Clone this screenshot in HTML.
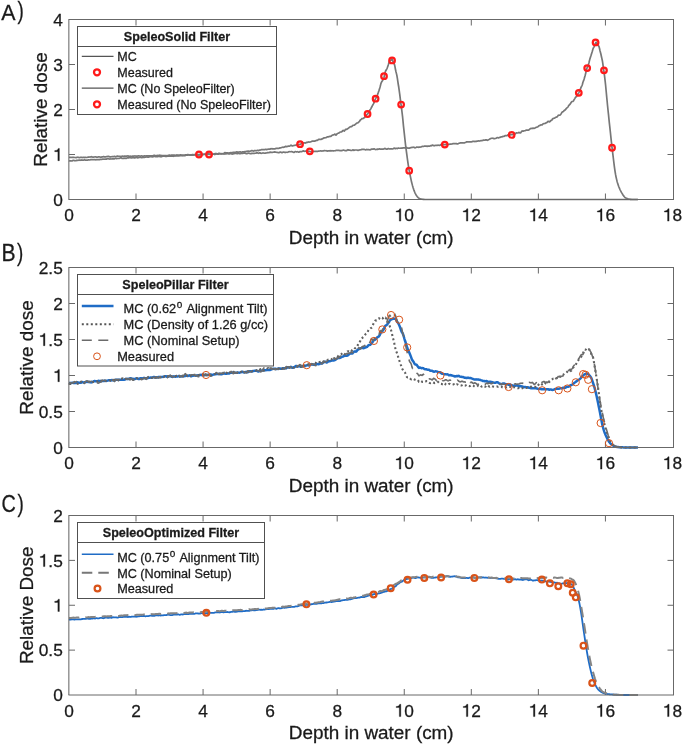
<!DOCTYPE html>
<html><head><meta charset="utf-8"><style>
html,body{margin:0;padding:0;background:#fff;width:685px;height:746px;overflow:hidden}
svg text{font-family:"Liberation Sans", sans-serif;fill:#1a1a1a;stroke:#1a1a1a;stroke-width:0.28px}
svg{will-change:transform}
</style></head><body>
<svg width="685" height="746" viewBox="0 0 685 746" style="position:absolute;left:0;top:0">
<rect x="0" y="0" width="685" height="746" fill="#ffffff"/>
<text x="64.14" y="221.10" font-size="17.3">0</text>
<line x1="136.01" y1="199.5" x2="136.01" y2="193.5" stroke="#686868" stroke-width="1"/>
<line x1="136.01" y1="19.5" x2="136.01" y2="25.5" stroke="#686868" stroke-width="1"/>
<text x="131.20" y="221.10" font-size="17.3">2</text>
<line x1="203.07" y1="199.5" x2="203.07" y2="193.5" stroke="#686868" stroke-width="1"/>
<line x1="203.07" y1="19.5" x2="203.07" y2="25.5" stroke="#686868" stroke-width="1"/>
<text x="198.26" y="221.10" font-size="17.3">4</text>
<line x1="270.13" y1="199.5" x2="270.13" y2="193.5" stroke="#686868" stroke-width="1"/>
<line x1="270.13" y1="19.5" x2="270.13" y2="25.5" stroke="#686868" stroke-width="1"/>
<text x="265.32" y="221.10" font-size="17.3">6</text>
<line x1="337.19" y1="199.5" x2="337.19" y2="193.5" stroke="#686868" stroke-width="1"/>
<line x1="337.19" y1="19.5" x2="337.19" y2="25.5" stroke="#686868" stroke-width="1"/>
<text x="332.38" y="221.10" font-size="17.3">8</text>
<line x1="404.25" y1="199.5" x2="404.25" y2="193.5" stroke="#686868" stroke-width="1"/>
<line x1="404.25" y1="19.5" x2="404.25" y2="25.5" stroke="#686868" stroke-width="1"/>
<path transform="translate(394.63,221.10) scale(17.3,-17.3)" d="M0.358 0 L0.358 0.712 L0.296 0.712 C0.282 0.640 0.215 0.590 0.090 0.584 L0.090 0.522 L0.272 0.522 L0.272 0 Z" fill="#1a1a1a" stroke="#1a1a1a" stroke-width="0.0202"/><text x="404.25" y="221.10" font-size="17.3">0</text>
<line x1="471.31" y1="199.5" x2="471.31" y2="193.5" stroke="#686868" stroke-width="1"/>
<line x1="471.31" y1="19.5" x2="471.31" y2="25.5" stroke="#686868" stroke-width="1"/>
<path transform="translate(461.69,221.10) scale(17.3,-17.3)" d="M0.358 0 L0.358 0.712 L0.296 0.712 C0.282 0.640 0.215 0.590 0.090 0.584 L0.090 0.522 L0.272 0.522 L0.272 0 Z" fill="#1a1a1a" stroke="#1a1a1a" stroke-width="0.0202"/><text x="471.31" y="221.10" font-size="17.3">2</text>
<line x1="538.37" y1="199.5" x2="538.37" y2="193.5" stroke="#686868" stroke-width="1"/>
<line x1="538.37" y1="19.5" x2="538.37" y2="25.5" stroke="#686868" stroke-width="1"/>
<path transform="translate(528.75,221.10) scale(17.3,-17.3)" d="M0.358 0 L0.358 0.712 L0.296 0.712 C0.282 0.640 0.215 0.590 0.090 0.584 L0.090 0.522 L0.272 0.522 L0.272 0 Z" fill="#1a1a1a" stroke="#1a1a1a" stroke-width="0.0202"/><text x="538.37" y="221.10" font-size="17.3">4</text>
<line x1="605.43" y1="199.5" x2="605.43" y2="193.5" stroke="#686868" stroke-width="1"/>
<line x1="605.43" y1="19.5" x2="605.43" y2="25.5" stroke="#686868" stroke-width="1"/>
<path transform="translate(595.81,221.10) scale(17.3,-17.3)" d="M0.358 0 L0.358 0.712 L0.296 0.712 C0.282 0.640 0.215 0.590 0.090 0.584 L0.090 0.522 L0.272 0.522 L0.272 0 Z" fill="#1a1a1a" stroke="#1a1a1a" stroke-width="0.0202"/><text x="605.43" y="221.10" font-size="17.3">6</text>
<path transform="translate(662.87,221.10) scale(17.3,-17.3)" d="M0.358 0 L0.358 0.712 L0.296 0.712 C0.282 0.640 0.215 0.590 0.090 0.584 L0.090 0.522 L0.272 0.522 L0.272 0 Z" fill="#1a1a1a" stroke="#1a1a1a" stroke-width="0.0202"/><text x="672.49" y="221.10" font-size="17.3">8</text>
<text x="53.18" y="205.70" font-size="17.3">0</text>
<line x1="69.0" y1="154.50" x2="75.0" y2="154.50" stroke="#686868" stroke-width="1"/>
<line x1="673.5" y1="154.50" x2="667.5" y2="154.50" stroke="#686868" stroke-width="1"/>
<path transform="translate(53.18,160.70) scale(17.3,-17.3)" d="M0.358 0 L0.358 0.712 L0.296 0.712 C0.282 0.640 0.215 0.590 0.090 0.584 L0.090 0.522 L0.272 0.522 L0.272 0 Z" fill="#1a1a1a" stroke="#1a1a1a" stroke-width="0.0202"/>
<line x1="69.0" y1="109.50" x2="75.0" y2="109.50" stroke="#686868" stroke-width="1"/>
<line x1="673.5" y1="109.50" x2="667.5" y2="109.50" stroke="#686868" stroke-width="1"/>
<text x="53.18" y="115.70" font-size="17.3">2</text>
<line x1="69.0" y1="64.50" x2="75.0" y2="64.50" stroke="#686868" stroke-width="1"/>
<line x1="673.5" y1="64.50" x2="667.5" y2="64.50" stroke="#686868" stroke-width="1"/>
<text x="53.18" y="70.70" font-size="17.3">3</text>
<text x="53.18" y="25.70" font-size="17.3">4</text>
<text x="371.25" y="243.80" text-anchor="middle" font-size="18.9">Depth in water (cm)</text>
<text transform="translate(47.0,109.50) rotate(-90)" text-anchor="middle" font-size="18.9">Relative dose</text>
<text x="64.14" y="469.10" font-size="17.3">0</text>
<line x1="136.01" y1="447.5" x2="136.01" y2="441.5" stroke="#686868" stroke-width="1"/>
<line x1="136.01" y1="267.5" x2="136.01" y2="273.5" stroke="#686868" stroke-width="1"/>
<text x="131.20" y="469.10" font-size="17.3">2</text>
<line x1="203.07" y1="447.5" x2="203.07" y2="441.5" stroke="#686868" stroke-width="1"/>
<line x1="203.07" y1="267.5" x2="203.07" y2="273.5" stroke="#686868" stroke-width="1"/>
<text x="198.26" y="469.10" font-size="17.3">4</text>
<line x1="270.13" y1="447.5" x2="270.13" y2="441.5" stroke="#686868" stroke-width="1"/>
<line x1="270.13" y1="267.5" x2="270.13" y2="273.5" stroke="#686868" stroke-width="1"/>
<text x="265.32" y="469.10" font-size="17.3">6</text>
<line x1="337.19" y1="447.5" x2="337.19" y2="441.5" stroke="#686868" stroke-width="1"/>
<line x1="337.19" y1="267.5" x2="337.19" y2="273.5" stroke="#686868" stroke-width="1"/>
<text x="332.38" y="469.10" font-size="17.3">8</text>
<line x1="404.25" y1="447.5" x2="404.25" y2="441.5" stroke="#686868" stroke-width="1"/>
<line x1="404.25" y1="267.5" x2="404.25" y2="273.5" stroke="#686868" stroke-width="1"/>
<path transform="translate(394.63,469.10) scale(17.3,-17.3)" d="M0.358 0 L0.358 0.712 L0.296 0.712 C0.282 0.640 0.215 0.590 0.090 0.584 L0.090 0.522 L0.272 0.522 L0.272 0 Z" fill="#1a1a1a" stroke="#1a1a1a" stroke-width="0.0202"/><text x="404.25" y="469.10" font-size="17.3">0</text>
<line x1="471.31" y1="447.5" x2="471.31" y2="441.5" stroke="#686868" stroke-width="1"/>
<line x1="471.31" y1="267.5" x2="471.31" y2="273.5" stroke="#686868" stroke-width="1"/>
<path transform="translate(461.69,469.10) scale(17.3,-17.3)" d="M0.358 0 L0.358 0.712 L0.296 0.712 C0.282 0.640 0.215 0.590 0.090 0.584 L0.090 0.522 L0.272 0.522 L0.272 0 Z" fill="#1a1a1a" stroke="#1a1a1a" stroke-width="0.0202"/><text x="471.31" y="469.10" font-size="17.3">2</text>
<line x1="538.37" y1="447.5" x2="538.37" y2="441.5" stroke="#686868" stroke-width="1"/>
<line x1="538.37" y1="267.5" x2="538.37" y2="273.5" stroke="#686868" stroke-width="1"/>
<path transform="translate(528.75,469.10) scale(17.3,-17.3)" d="M0.358 0 L0.358 0.712 L0.296 0.712 C0.282 0.640 0.215 0.590 0.090 0.584 L0.090 0.522 L0.272 0.522 L0.272 0 Z" fill="#1a1a1a" stroke="#1a1a1a" stroke-width="0.0202"/><text x="538.37" y="469.10" font-size="17.3">4</text>
<line x1="605.43" y1="447.5" x2="605.43" y2="441.5" stroke="#686868" stroke-width="1"/>
<line x1="605.43" y1="267.5" x2="605.43" y2="273.5" stroke="#686868" stroke-width="1"/>
<path transform="translate(595.81,469.10) scale(17.3,-17.3)" d="M0.358 0 L0.358 0.712 L0.296 0.712 C0.282 0.640 0.215 0.590 0.090 0.584 L0.090 0.522 L0.272 0.522 L0.272 0 Z" fill="#1a1a1a" stroke="#1a1a1a" stroke-width="0.0202"/><text x="605.43" y="469.10" font-size="17.3">6</text>
<path transform="translate(662.87,469.10) scale(17.3,-17.3)" d="M0.358 0 L0.358 0.712 L0.296 0.712 C0.282 0.640 0.215 0.590 0.090 0.584 L0.090 0.522 L0.272 0.522 L0.272 0 Z" fill="#1a1a1a" stroke="#1a1a1a" stroke-width="0.0202"/><text x="672.49" y="469.10" font-size="17.3">8</text>
<text x="53.18" y="453.70" font-size="17.3">0</text>
<line x1="69.0" y1="411.50" x2="75.0" y2="411.50" stroke="#686868" stroke-width="1"/>
<line x1="673.5" y1="411.50" x2="667.5" y2="411.50" stroke="#686868" stroke-width="1"/>
<text x="38.75" y="417.70" font-size="17.3">0</text><text x="48.37" y="417.70" font-size="17.3">.</text><text x="53.18" y="417.70" font-size="17.3">5</text>
<line x1="69.0" y1="375.50" x2="75.0" y2="375.50" stroke="#686868" stroke-width="1"/>
<line x1="673.5" y1="375.50" x2="667.5" y2="375.50" stroke="#686868" stroke-width="1"/>
<path transform="translate(53.18,381.70) scale(17.3,-17.3)" d="M0.358 0 L0.358 0.712 L0.296 0.712 C0.282 0.640 0.215 0.590 0.090 0.584 L0.090 0.522 L0.272 0.522 L0.272 0 Z" fill="#1a1a1a" stroke="#1a1a1a" stroke-width="0.0202"/>
<line x1="69.0" y1="339.50" x2="75.0" y2="339.50" stroke="#686868" stroke-width="1"/>
<line x1="673.5" y1="339.50" x2="667.5" y2="339.50" stroke="#686868" stroke-width="1"/>
<path transform="translate(38.75,345.70) scale(17.3,-17.3)" d="M0.358 0 L0.358 0.712 L0.296 0.712 C0.282 0.640 0.215 0.590 0.090 0.584 L0.090 0.522 L0.272 0.522 L0.272 0 Z" fill="#1a1a1a" stroke="#1a1a1a" stroke-width="0.0202"/><text x="48.37" y="345.70" font-size="17.3">.</text><text x="53.18" y="345.70" font-size="17.3">5</text>
<line x1="69.0" y1="303.50" x2="75.0" y2="303.50" stroke="#686868" stroke-width="1"/>
<line x1="673.5" y1="303.50" x2="667.5" y2="303.50" stroke="#686868" stroke-width="1"/>
<text x="53.18" y="309.70" font-size="17.3">2</text>
<text x="38.75" y="273.70" font-size="17.3">2</text><text x="48.37" y="273.70" font-size="17.3">.</text><text x="53.18" y="273.70" font-size="17.3">5</text>
<text x="371.25" y="491.80" text-anchor="middle" font-size="18.9">Depth in water (cm)</text>
<text transform="translate(32.8,357.50) rotate(-90)" text-anchor="middle" font-size="18.9">Relative dose</text>
<text x="64.14" y="716.60" font-size="17.3">0</text>
<line x1="136.01" y1="695.0" x2="136.01" y2="689.0" stroke="#686868" stroke-width="1"/>
<line x1="136.01" y1="515.5" x2="136.01" y2="521.5" stroke="#686868" stroke-width="1"/>
<text x="131.20" y="716.60" font-size="17.3">2</text>
<line x1="203.07" y1="695.0" x2="203.07" y2="689.0" stroke="#686868" stroke-width="1"/>
<line x1="203.07" y1="515.5" x2="203.07" y2="521.5" stroke="#686868" stroke-width="1"/>
<text x="198.26" y="716.60" font-size="17.3">4</text>
<line x1="270.13" y1="695.0" x2="270.13" y2="689.0" stroke="#686868" stroke-width="1"/>
<line x1="270.13" y1="515.5" x2="270.13" y2="521.5" stroke="#686868" stroke-width="1"/>
<text x="265.32" y="716.60" font-size="17.3">6</text>
<line x1="337.19" y1="695.0" x2="337.19" y2="689.0" stroke="#686868" stroke-width="1"/>
<line x1="337.19" y1="515.5" x2="337.19" y2="521.5" stroke="#686868" stroke-width="1"/>
<text x="332.38" y="716.60" font-size="17.3">8</text>
<line x1="404.25" y1="695.0" x2="404.25" y2="689.0" stroke="#686868" stroke-width="1"/>
<line x1="404.25" y1="515.5" x2="404.25" y2="521.5" stroke="#686868" stroke-width="1"/>
<path transform="translate(394.63,716.60) scale(17.3,-17.3)" d="M0.358 0 L0.358 0.712 L0.296 0.712 C0.282 0.640 0.215 0.590 0.090 0.584 L0.090 0.522 L0.272 0.522 L0.272 0 Z" fill="#1a1a1a" stroke="#1a1a1a" stroke-width="0.0202"/><text x="404.25" y="716.60" font-size="17.3">0</text>
<line x1="471.31" y1="695.0" x2="471.31" y2="689.0" stroke="#686868" stroke-width="1"/>
<line x1="471.31" y1="515.5" x2="471.31" y2="521.5" stroke="#686868" stroke-width="1"/>
<path transform="translate(461.69,716.60) scale(17.3,-17.3)" d="M0.358 0 L0.358 0.712 L0.296 0.712 C0.282 0.640 0.215 0.590 0.090 0.584 L0.090 0.522 L0.272 0.522 L0.272 0 Z" fill="#1a1a1a" stroke="#1a1a1a" stroke-width="0.0202"/><text x="471.31" y="716.60" font-size="17.3">2</text>
<line x1="538.37" y1="695.0" x2="538.37" y2="689.0" stroke="#686868" stroke-width="1"/>
<line x1="538.37" y1="515.5" x2="538.37" y2="521.5" stroke="#686868" stroke-width="1"/>
<path transform="translate(528.75,716.60) scale(17.3,-17.3)" d="M0.358 0 L0.358 0.712 L0.296 0.712 C0.282 0.640 0.215 0.590 0.090 0.584 L0.090 0.522 L0.272 0.522 L0.272 0 Z" fill="#1a1a1a" stroke="#1a1a1a" stroke-width="0.0202"/><text x="538.37" y="716.60" font-size="17.3">4</text>
<line x1="605.43" y1="695.0" x2="605.43" y2="689.0" stroke="#686868" stroke-width="1"/>
<line x1="605.43" y1="515.5" x2="605.43" y2="521.5" stroke="#686868" stroke-width="1"/>
<path transform="translate(595.81,716.60) scale(17.3,-17.3)" d="M0.358 0 L0.358 0.712 L0.296 0.712 C0.282 0.640 0.215 0.590 0.090 0.584 L0.090 0.522 L0.272 0.522 L0.272 0 Z" fill="#1a1a1a" stroke="#1a1a1a" stroke-width="0.0202"/><text x="605.43" y="716.60" font-size="17.3">6</text>
<path transform="translate(662.87,716.60) scale(17.3,-17.3)" d="M0.358 0 L0.358 0.712 L0.296 0.712 C0.282 0.640 0.215 0.590 0.090 0.584 L0.090 0.522 L0.272 0.522 L0.272 0 Z" fill="#1a1a1a" stroke="#1a1a1a" stroke-width="0.0202"/><text x="672.49" y="716.60" font-size="17.3">8</text>
<text x="53.18" y="701.20" font-size="17.3">0</text>
<line x1="69.0" y1="650.12" x2="75.0" y2="650.12" stroke="#686868" stroke-width="1"/>
<line x1="673.5" y1="650.12" x2="667.5" y2="650.12" stroke="#686868" stroke-width="1"/>
<text x="38.75" y="656.33" font-size="17.3">0</text><text x="48.37" y="656.33" font-size="17.3">.</text><text x="53.18" y="656.33" font-size="17.3">5</text>
<line x1="69.0" y1="605.25" x2="75.0" y2="605.25" stroke="#686868" stroke-width="1"/>
<line x1="673.5" y1="605.25" x2="667.5" y2="605.25" stroke="#686868" stroke-width="1"/>
<path transform="translate(53.18,611.45) scale(17.3,-17.3)" d="M0.358 0 L0.358 0.712 L0.296 0.712 C0.282 0.640 0.215 0.590 0.090 0.584 L0.090 0.522 L0.272 0.522 L0.272 0 Z" fill="#1a1a1a" stroke="#1a1a1a" stroke-width="0.0202"/>
<line x1="69.0" y1="560.38" x2="75.0" y2="560.38" stroke="#686868" stroke-width="1"/>
<line x1="673.5" y1="560.38" x2="667.5" y2="560.38" stroke="#686868" stroke-width="1"/>
<path transform="translate(38.75,566.58) scale(17.3,-17.3)" d="M0.358 0 L0.358 0.712 L0.296 0.712 C0.282 0.640 0.215 0.590 0.090 0.584 L0.090 0.522 L0.272 0.522 L0.272 0 Z" fill="#1a1a1a" stroke="#1a1a1a" stroke-width="0.0202"/><text x="48.37" y="566.58" font-size="17.3">.</text><text x="53.18" y="566.58" font-size="17.3">5</text>
<text x="53.18" y="521.70" font-size="17.3">2</text>
<text x="371.25" y="739.30" text-anchor="middle" font-size="18.9">Depth in water (cm)</text>
<text transform="translate(32.8,605.25) rotate(-90)" text-anchor="middle" font-size="18.9">Relative Dose</text>
<path d="M69.00,160.59 L69.47,160.89 L69.95,160.91 L70.42,160.86 L70.90,160.86 L71.37,160.93 L71.85,160.99 L72.32,160.85 L72.80,160.52 L73.27,160.23 L73.74,160.33 L74.22,160.56 L74.69,160.66 L75.17,160.72 L75.64,160.71 L76.12,160.58 L76.59,160.43 L77.07,160.35 L77.54,160.30 L78.02,160.30 L78.49,160.22 L78.96,160.09 L79.44,160.16 L79.91,160.29 L80.39,160.24 L80.86,160.04 L81.34,159.95 L81.81,160.07 L82.29,160.13 L82.76,160.12 L83.23,160.18 L83.71,160.12 L84.18,159.96 L84.66,159.91 L85.13,159.96 L85.61,160.12 L86.08,160.26 L86.56,160.16 L87.03,160.18 L87.50,160.18 L87.98,159.98 L88.45,159.86 L88.93,159.95 L89.40,160.01 L89.88,159.89 L90.35,159.70 L90.83,159.53 L91.30,159.50 L91.77,159.53 L92.25,159.56 L92.72,159.68 L93.20,159.73 L93.67,159.60 L94.15,159.54 L94.62,159.63 L95.10,159.71 L95.57,159.78 L96.05,159.80 L96.52,159.61 L96.99,159.54 L97.47,159.65 L97.94,159.63 L98.42,159.55 L98.89,159.56 L99.37,159.67 L99.84,159.56 L100.32,159.29 L100.79,159.30 L101.26,159.51 L101.74,159.47 L102.21,159.30 L102.69,159.18 L103.16,159.12 L103.64,159.21 L104.11,159.24 L104.59,159.15 L105.06,159.01 L105.53,159.05 L106.01,159.20 L106.48,159.15 L106.96,158.86 L107.43,158.70 L107.91,158.68 L108.38,158.70 L108.86,158.84 L109.33,159.02 L109.80,159.08 L110.28,158.97 L110.75,158.87 L111.23,158.98 L111.70,159.00 L112.18,158.87 L112.65,158.74 L113.13,158.78 L113.60,158.97 L114.08,158.99 L114.55,158.72 L115.02,158.44 L115.50,158.40 L115.97,158.50 L116.45,158.56 L116.92,158.54 L117.40,158.49 L117.87,158.47 L118.35,158.52 L118.82,158.50 L119.29,158.41 L119.77,158.28 L120.24,158.08 L120.72,157.84 L121.19,157.84 L121.67,158.13 L122.14,158.47 L122.62,158.52 L123.09,158.41 L123.56,158.40 L124.04,158.39 L124.51,158.15 L124.99,158.10 L125.46,158.32 L125.94,158.42 L126.41,158.31 L126.89,158.07 L127.36,157.81 L127.83,157.70 L128.31,157.79 L128.78,157.82 L129.26,157.72 L129.73,157.59 L130.21,157.57 L130.68,157.71 L131.16,157.93 L131.63,157.99 L132.11,157.85 L132.58,157.63 L133.05,157.62 L133.53,157.76 L134.00,157.80 L134.48,157.78 L134.95,157.84 L135.43,157.78 L135.90,157.48 L136.38,157.30 L136.85,157.51 L137.32,157.77 L137.80,157.89 L138.27,157.79 L138.75,157.52 L139.22,157.36 L139.70,157.37 L140.17,157.39 L140.65,157.41 L141.12,157.52 L141.59,157.64 L142.07,157.57 L142.54,157.48 L143.02,157.50 L143.49,157.52 L143.97,157.47 L144.44,157.33 L144.92,157.20 L145.39,157.21 L145.87,157.15 L146.34,156.99 L146.81,156.88 L147.29,156.98 L147.76,157.18 L148.24,157.15 L148.71,157.06 L149.19,156.95 L149.66,156.78 L150.14,156.67 L150.61,156.67 L151.08,156.68 L151.56,156.69 L152.03,156.80 L152.51,156.83 L152.98,156.77 L153.46,156.64 L153.93,156.41 L154.41,156.28 L154.88,156.34 L155.35,156.57 L155.83,156.71 L156.30,156.66 L156.78,156.61 L157.25,156.64 L157.73,156.59 L158.20,156.47 L158.68,156.39 L159.15,156.45 L159.62,156.50 L160.10,156.64 L160.57,156.77 L161.05,156.78 L161.52,156.68 L162.00,156.44 L162.47,156.25 L162.95,156.19 L163.42,156.10 L163.90,156.02 L164.37,156.12 L164.84,156.27 L165.32,156.43 L165.79,156.48 L166.27,156.42 L166.74,156.38 L167.22,156.22 L167.69,156.05 L168.17,156.00 L168.64,156.10 L169.11,156.19 L169.59,156.16 L170.06,156.14 L170.54,156.11 L171.01,156.05 L171.49,156.05 L171.96,156.09 L172.44,156.15 L172.91,156.23 L173.38,156.29 L173.86,156.19 L174.33,155.97 L174.81,155.72 L175.28,155.73 L175.76,155.94 L176.23,155.94 L176.71,155.88 L177.18,155.87 L177.65,155.81 L178.13,155.90 L178.60,155.99 L179.08,155.87 L179.55,155.72 L180.03,155.71 L180.50,155.69 L180.98,155.54 L181.45,155.52 L181.93,155.68 L182.40,155.70 L182.87,155.59 L183.35,155.40 L183.82,155.23 L184.30,155.34 L184.77,155.56 L185.25,155.53 L185.72,155.25 L186.20,155.02 L186.67,155.11 L187.14,155.19 L187.62,155.13 L188.09,155.00 L188.57,154.90 L189.04,155.00 L189.52,155.04 L189.99,155.03 L190.47,155.08 L190.94,155.07 L191.41,154.93 L191.89,154.96 L192.36,155.12 L192.84,155.21 L193.31,155.12 L193.79,154.87 L194.26,154.68 L194.74,154.59 L195.21,154.57 L195.68,154.63 L196.16,154.68 L196.63,154.64 L197.11,154.64 L197.58,154.64 L198.06,154.53 L198.53,154.47 L199.01,154.57 L199.48,154.60 L199.96,154.42 L200.43,154.32 L200.90,154.48 L201.38,154.59 L201.85,154.53 L202.33,154.54 L202.80,154.64 L203.28,154.50 L203.75,154.34 L204.23,154.31 L204.70,154.21 L205.17,154.24 L205.65,154.39 L206.12,154.50 L206.60,154.56 L207.07,154.36 L207.55,154.11 L208.02,154.05 L208.50,153.96 L208.97,153.95 L209.44,154.02 L209.92,154.24 L210.39,154.47 L210.87,154.37 L211.34,154.24 L211.82,154.30 L212.29,154.27 L212.77,154.14 L213.24,154.19 L213.72,154.25 L214.19,154.06 L214.66,153.82 L215.14,153.69 L215.61,153.51 L216.09,153.44 L216.56,153.67 L217.04,153.93 L217.51,153.93 L217.99,153.67 L218.46,153.44 L218.93,153.38 L219.41,153.42 L219.88,153.47 L220.36,153.48 L220.83,153.53 L221.31,153.63 L221.78,153.75 L222.26,153.76 L222.73,153.66 L223.20,153.58 L223.68,153.42 L224.15,153.14 L224.63,152.83 L225.10,152.58 L225.58,152.70 L226.05,152.92 L226.53,152.91 L227.00,152.90 L227.47,152.92 L227.95,152.93 L228.42,153.18 L228.90,153.31 L229.37,153.02 L229.85,152.73 L230.32,152.63 L230.80,152.76 L231.27,152.76 L231.75,152.61 L232.22,152.60 L232.69,152.46 L233.17,152.29 L233.64,152.34 L234.12,152.40 L234.59,152.34 L235.07,152.31 L235.54,152.32 L236.02,152.17 L236.49,151.93 L236.96,151.86 L237.44,152.10 L237.91,152.24 L238.39,152.14 L238.86,152.08 L239.34,152.01 L239.81,151.89 L240.29,151.86 L240.76,152.01 L241.23,152.24 L241.71,152.37 L242.18,152.10 L242.66,151.78 L243.13,151.84 L243.61,151.98 L244.08,151.91 L244.56,151.70 L245.03,151.65 L245.50,151.66 L245.98,151.49 L246.45,151.34 L246.93,151.31 L247.40,151.25 L247.88,151.09 L248.35,151.12 L248.83,151.28 L249.30,151.33 L249.78,151.21 L250.25,151.06 L250.72,150.96 L251.20,150.82 L251.67,150.68 L252.15,150.61 L252.62,150.71 L253.10,150.98 L253.57,151.11 L254.05,150.87 L254.52,150.62 L254.99,150.57 L255.47,150.61 L255.94,150.71 L256.42,150.75 L256.89,150.60 L257.37,150.37 L257.84,150.38 L258.32,150.57 L258.79,150.60 L259.26,150.32 L259.74,150.03 L260.21,150.03 L260.69,150.02 L261.16,149.77 L261.64,149.58 L262.11,149.57 L262.59,149.57 L263.06,149.55 L263.53,149.57 L264.01,149.65 L264.48,149.64 L264.96,149.46 L265.43,149.33 L265.91,149.40 L266.38,149.60 L266.86,149.46 L267.33,149.28 L267.81,149.28 L268.28,149.20 L268.75,149.08 L269.23,149.12 L269.70,149.19 L270.18,149.07 L270.65,148.80 L271.13,148.69 L271.60,148.78 L272.08,148.81 L272.55,148.72 L273.02,148.73 L273.50,148.94 L273.97,148.99 L274.45,148.87 L274.92,148.81 L275.40,148.67 L275.87,148.45 L276.35,148.36 L276.82,148.36 L277.29,148.34 L277.77,148.36 L278.24,148.33 L278.72,148.36 L279.19,148.24 L279.67,147.96 L280.14,147.89 L280.62,147.89 L281.09,147.73 L281.56,147.52 L282.04,147.41 L282.51,147.28 L282.99,147.20 L283.46,147.29 L283.94,147.30 L284.41,147.06 L284.89,146.70 L285.36,146.46 L285.84,146.45 L286.31,146.56 L286.78,146.55 L287.26,146.44 L287.73,146.34 L288.21,146.19 L288.68,146.16 L289.16,146.25 L289.63,146.16 L290.11,145.83 L290.58,145.37 L291.05,145.22 L291.53,145.51 L292.00,145.87 L292.48,145.98 L292.95,145.74 L293.43,145.55 L293.90,145.47 L294.38,145.39 L294.85,145.39 L295.32,145.26 L295.80,145.11 L296.27,144.98 L296.75,144.68 L297.22,144.62 L297.70,144.86 L298.17,144.83 L298.65,144.53 L299.12,144.45 L299.60,144.49 L300.07,144.35 L300.54,144.13 L301.02,143.90 L301.49,143.64 L301.97,143.37 L302.44,143.10 L302.92,143.00 L303.39,142.99 L303.87,142.89 L304.34,142.83 L304.81,142.98 L305.29,143.09 L305.76,142.88 L306.24,142.59 L306.71,142.40 L307.19,142.37 L307.66,142.31 L308.14,142.10 L308.61,141.93 L309.08,142.00 L309.56,142.06 L310.03,142.00 L310.51,141.91 L310.98,141.76 L311.46,141.56 L311.93,141.26 L312.41,141.05 L312.88,141.14 L313.35,141.17 L313.83,141.05 L314.30,140.99 L314.78,141.06 L315.25,140.94 L315.73,140.63 L316.20,140.38 L316.68,140.35 L317.15,140.38 L317.63,140.20 L318.10,139.78 L318.57,139.45 L319.05,139.41 L319.52,139.42 L320.00,139.44 L320.47,139.48 L320.95,139.37 L321.42,139.13 L321.90,138.93 L322.37,138.87 L322.84,138.70 L323.32,138.21 L323.79,137.92 L324.27,137.96 L324.74,137.91 L325.22,137.75 L325.69,137.69 L326.17,137.61 L326.64,137.30 L327.11,137.06 L327.59,136.88 L328.06,136.85 L328.54,136.84 L329.01,136.63 L329.49,136.44 L329.96,136.45 L330.44,136.42 L330.91,136.33 L331.38,136.06 L331.86,135.50 L332.33,135.17 L332.81,135.04 L333.28,134.95 L333.76,134.92 L334.23,134.59 L334.71,134.15 L335.18,134.32 L335.66,134.97 L336.13,135.11 L336.60,134.43 L337.08,133.70 L337.55,133.45 L338.03,133.27 L338.50,133.07 L338.98,132.94 L339.45,132.61 L339.93,132.22 L340.40,132.03 L340.87,131.97 L341.35,131.88 L341.82,131.63 L342.30,131.23 L342.77,130.64 L343.25,130.41 L343.72,130.86 L344.20,131.11 L344.67,130.64 L345.14,129.92 L345.62,129.40 L346.09,129.28 L346.57,129.38 L347.04,129.17 L347.52,128.76 L347.99,128.49 L348.47,128.14 L348.94,127.79 L349.41,127.42 L349.89,127.05 L350.36,126.78 L350.84,126.71 L351.31,126.69 L351.79,126.40 L352.26,125.99 L352.74,125.55 L353.21,125.24 L353.69,125.26 L354.16,125.27 L354.63,125.01 L355.11,124.52 L355.58,124.07 L356.06,123.71 L356.53,123.26 L357.01,123.02 L357.48,123.02 L357.96,122.83 L358.43,122.28 L358.90,121.89 L359.38,121.57 L359.85,120.77 L360.33,120.08 L360.80,119.79 L361.28,119.28 L361.75,118.65 L362.23,118.56 L362.70,118.70 L363.17,118.46 L363.65,118.07 L364.12,117.89 L364.60,117.58 L365.07,116.83 L365.55,116.18 L366.02,115.62 L366.50,114.99 L366.97,114.43 L367.45,114.09 L367.92,113.57 L368.39,112.61 L368.87,111.72 L369.34,111.05 L369.82,110.27 L370.29,109.61 L370.77,108.85 L371.24,107.87 L371.72,107.02 L372.19,106.09 L372.66,105.20 L373.14,104.41 L373.61,103.63 L374.09,102.41 L374.56,100.89 L375.04,99.76 L375.51,98.87 L375.99,97.88 L376.46,96.91 L376.93,96.13 L377.41,95.02 L377.88,93.61 L378.36,92.33 L378.83,90.97 L379.31,89.46 L379.78,87.95 L380.26,86.24 L380.73,84.35 L381.20,82.84 L381.68,81.81 L382.15,81.12 L382.63,80.48 L383.10,79.58 L383.58,78.46 L384.05,77.23 L384.53,75.33 L385.00,73.03 L385.48,71.23 L385.95,70.36 L386.42,69.75 L386.90,68.74 L387.37,67.53 L387.85,66.18 L388.32,64.82 L388.80,63.16 L389.27,61.60 L389.75,60.70 L390.22,60.26 L390.69,60.35 L391.17,60.16 L391.64,59.41 L392.12,59.37 L392.59,60.37 L393.07,61.57 L393.54,62.68 L394.02,63.46 L394.49,64.55 L394.96,66.63 L395.44,69.23 L395.91,71.54 L396.39,73.35 L396.86,75.43 L397.34,78.20 L397.81,81.44 L398.29,84.50 L398.76,87.26 L399.23,90.56 L399.71,94.14 L400.18,97.89 L400.66,101.83 L401.13,105.36 L401.61,108.85 L402.08,112.57 L402.56,116.69 L403.03,121.45 L403.51,126.33 L403.98,130.70 L404.45,134.89 L404.93,139.27 L405.40,143.65 L405.88,147.59 L406.35,151.12 L406.83,154.66 L407.30,158.26 L407.78,161.63 L408.25,164.76 L408.72,167.79 L409.20,170.40 L409.67,172.80 L410.15,175.29 L410.62,177.70 L411.10,179.91 L411.57,181.95 L412.05,183.88 L412.52,185.64 L412.99,187.25 L413.47,188.74 L413.94,190.11 L414.42,191.39 L414.89,192.54 L415.37,193.56 L415.84,194.47 L416.32,195.26 L416.79,195.95 L417.26,196.57 L417.74,197.11 L418.21,197.58 L418.69,197.97 L419.16,198.30 L419.64,198.56 L420.11,198.75 L420.59,198.90 L421.06,199.01 L421.54,199.11 L422.01,199.19 L422.48,199.26 L422.96,199.33 L423.43,199.38 L423.91,199.42 L424.38,199.46 L424.86,199.48 L425.33,199.49 L425.81,199.50 L426.28,199.50 L426.75,199.50 L427.23,199.50 L427.70,199.50 L428.18,199.50 L428.65,199.50 L429.13,199.50 L429.60,199.50 L430.08,199.50 L430.55,199.50 L431.02,199.50 L431.50,199.50 L431.97,199.50 L432.45,199.50 L432.92,199.50 L433.40,199.50 L433.87,199.50 L434.35,199.50 L434.82,199.50 L435.30,199.50 L435.77,199.50 L436.24,199.50 L436.72,199.50 L437.19,199.50 L437.67,199.50 L438.14,199.50 L438.62,199.50 L439.09,199.50 L439.57,199.50 L440.04,199.50 L440.51,199.50 L440.99,199.50 L441.46,199.50 L441.94,199.50 L442.41,199.50 L442.89,199.50 L443.36,199.50 L443.84,199.50 L444.31,199.50 L444.78,199.50 L445.26,199.50 L445.73,199.50 L446.21,199.50 L446.68,199.50 L447.16,199.50 L447.63,199.50 L448.11,199.50 L448.58,199.50 L449.05,199.50 L449.53,199.50 L450.00,199.50 L450.48,199.50 L450.95,199.50 L451.43,199.50 L451.90,199.50 L452.38,199.50 L452.85,199.50 L453.33,199.50 L453.80,199.50 L454.27,199.50 L454.75,199.50 L455.22,199.50 L455.70,199.50 L456.17,199.50 L456.65,199.50 L457.12,199.50 L457.60,199.50 L458.07,199.50 L458.54,199.50 L459.02,199.50 L459.49,199.50 L459.97,199.50 L460.44,199.50 L460.92,199.50 L461.39,199.50 L461.87,199.50 L462.34,199.50 L462.81,199.50 L463.29,199.50 L463.76,199.50 L464.24,199.50 L464.71,199.50 L465.19,199.50 L465.66,199.50 L466.14,199.50 L466.61,199.50 L467.08,199.50 L467.56,199.50 L468.03,199.50 L468.51,199.50 L468.98,199.50 L469.46,199.50 L469.93,199.50 L470.41,199.50 L470.88,199.50 L471.36,199.50 L471.83,199.50 L472.30,199.50 L472.78,199.50 L473.25,199.50 L473.73,199.50 L474.20,199.50 L474.68,199.50 L475.15,199.50 L475.63,199.50 L476.10,199.50 L476.57,199.50 L477.05,199.50 L477.52,199.50 L478.00,199.50 L478.47,199.50 L478.95,199.50 L479.42,199.50 L479.90,199.50 L480.37,199.50 L480.84,199.50 L481.32,199.50 L481.79,199.50 L482.27,199.50 L482.74,199.50 L483.22,199.50 L483.69,199.50 L484.17,199.50 L484.64,199.50 L485.11,199.50 L485.59,199.50 L486.06,199.50 L486.54,199.50 L487.01,199.50 L487.49,199.50 L487.96,199.50 L488.44,199.50 L488.91,199.50 L489.39,199.50 L489.86,199.50 L490.33,199.50 L490.81,199.50 L491.28,199.50 L491.76,199.50 L492.23,199.50 L492.71,199.50 L493.18,199.50 L493.66,199.50 L494.13,199.50 L494.60,199.50 L495.08,199.50 L495.55,199.50 L496.03,199.50 L496.50,199.50 L496.98,199.50 L497.45,199.50 L497.93,199.50 L498.40,199.50 L498.87,199.50 L499.35,199.50 L499.82,199.50 L500.30,199.50 L500.77,199.50 L501.25,199.50 L501.72,199.50 L502.20,199.50 L502.67,199.50 L503.15,199.50 L503.62,199.50 L504.09,199.50 L504.57,199.50 L505.04,199.50 L505.52,199.50 L505.99,199.50 L506.47,199.50 L506.94,199.50 L507.42,199.50 L507.89,199.50 L508.36,199.50 L508.84,199.50 L509.31,199.50 L509.79,199.50 L510.26,199.50 L510.74,199.50 L511.21,199.50 L511.69,199.50 L512.16,199.50 L512.63,199.50 L513.11,199.50 L513.58,199.50 L514.06,199.50 L514.53,199.50 L515.01,199.50 L515.48,199.50 L515.96,199.50 L516.43,199.50 L516.90,199.50 L517.38,199.50 L517.85,199.50 L518.33,199.50 L518.80,199.50 L519.28,199.50 L519.75,199.50 L520.23,199.50 L520.70,199.50 L521.18,199.50 L521.65,199.50 L522.12,199.50 L522.60,199.50 L523.07,199.50 L523.55,199.50 L524.02,199.50 L524.50,199.50 L524.97,199.50 L525.45,199.50 L525.92,199.50 L526.39,199.50 L526.87,199.50 L527.34,199.50 L527.82,199.50 L528.29,199.50 L528.77,199.50 L529.24,199.50 L529.72,199.50 L530.19,199.50 L530.66,199.50 L531.14,199.50 L531.61,199.50 L532.09,199.50 L532.56,199.50 L533.04,199.50 L533.51,199.50 L533.99,199.50 L534.46,199.50 L534.93,199.50 L535.41,199.50 L535.88,199.50 L536.36,199.50 L536.83,199.50 L537.31,199.50 L537.78,199.50 L538.26,199.50 L538.73,199.50 L539.21,199.50 L539.68,199.50 L540.15,199.50 L540.63,199.50 L541.10,199.50 L541.58,199.50 L542.05,199.50 L542.53,199.50 L543.00,199.50 L543.48,199.50 L543.95,199.50 L544.42,199.50 L544.90,199.50 L545.37,199.50 L545.85,199.50 L546.32,199.50 L546.80,199.50 L547.27,199.50 L547.75,199.50 L548.22,199.50 L548.69,199.50 L549.17,199.50 L549.64,199.50 L550.12,199.50 L550.59,199.50 L551.07,199.50 L551.54,199.50 L552.02,199.50 L552.49,199.50 L552.96,199.50 L553.44,199.50 L553.91,199.50 L554.39,199.50 L554.86,199.50 L555.34,199.50 L555.81,199.50 L556.29,199.50 L556.76,199.50 L557.24,199.50 L557.71,199.50 L558.18,199.50 L558.66,199.50 L559.13,199.50 L559.61,199.50 L560.08,199.50 L560.56,199.50 L561.03,199.50 L561.51,199.50 L561.98,199.50 L562.45,199.50 L562.93,199.50 L563.40,199.50 L563.88,199.50 L564.35,199.50 L564.83,199.50 L565.30,199.50 L565.78,199.50 L566.25,199.50 L566.72,199.50 L567.20,199.50 L567.67,199.50 L568.15,199.50 L568.62,199.50 L569.10,199.50 L569.57,199.50 L570.05,199.50 L570.52,199.50 L570.99,199.50 L571.47,199.50 L571.94,199.50 L572.42,199.50 L572.89,199.50 L573.37,199.50 L573.84,199.50 L574.32,199.50 L574.79,199.50 L575.27,199.50 L575.74,199.50 L576.21,199.50 L576.69,199.50 L577.16,199.50 L577.64,199.50 L578.11,199.50 L578.59,199.50 L579.06,199.50 L579.54,199.50 L580.01,199.50 L580.48,199.50 L580.96,199.50 L581.43,199.50 L581.91,199.50 L582.38,199.50 L582.86,199.50 L583.33,199.50 L583.81,199.50 L584.28,199.50 L584.75,199.50 L585.23,199.50 L585.70,199.50 L586.18,199.50 L586.65,199.50 L587.13,199.50 L587.60,199.50 L588.08,199.50 L588.55,199.50 L589.03,199.50 L589.50,199.50 L589.97,199.50 L590.45,199.50 L590.92,199.50 L591.40,199.50 L591.87,199.50 L592.35,199.50 L592.82,199.50 L593.30,199.50 L593.77,199.50 L594.24,199.50 L594.72,199.50 L595.19,199.50 L595.67,199.50 L596.14,199.50 L596.62,199.50 L597.09,199.50 L597.57,199.50 L598.04,199.50 L598.51,199.50 L598.99,199.50 L599.46,199.50 L599.94,199.50 L600.41,199.50 L600.89,199.50 L601.36,199.50 L601.84,199.50 L602.31,199.50 L602.78,199.50 L603.26,199.50 L603.73,199.50 L604.21,199.50 L604.68,199.50 L605.16,199.50 L605.63,199.50 L606.11,199.50 L606.58,199.50 L607.06,199.50 L607.53,199.50 L608.00,199.50 L608.48,199.50 L608.95,199.50 L609.43,199.50 L609.90,199.50 L610.38,199.50 L610.85,199.50 L611.33,199.50 L611.80,199.50 L612.27,199.50 L612.75,199.50 L613.22,199.50 L613.70,199.50 L614.17,199.50 L614.65,199.50 L615.12,199.50 L615.60,199.50 L616.07,199.50 L616.54,199.50 L617.02,199.50 L617.49,199.50 L617.97,199.50 L618.44,199.50 L618.92,199.50 L619.39,199.50 L619.87,199.50 L620.34,199.50 L620.81,199.50 L621.29,199.50 L621.76,199.50 L622.24,199.50 L622.71,199.50 L623.19,199.50 L623.66,199.50 L624.14,199.50 L624.61,199.50 L625.09,199.50 L625.56,199.50 L626.03,199.50 L626.51,199.50 L626.98,199.50 L627.46,199.50 L627.93,199.50 L628.41,199.50 L628.88,199.50 L629.36,199.50 L629.83,199.50 L630.30,199.50 L630.78,199.50 L631.25,199.50 L631.73,199.50 L632.20,199.50 L632.68,199.50 L633.15,199.50 L633.63,199.50 L634.10,199.50 L634.57,199.50 L635.05,199.50 L635.52,199.50 L636.00,199.50 L636.47,199.50 L636.95,199.50 L637.42,199.50 L637.90,199.50" fill="none" stroke="#777777" stroke-width="1.7" stroke-linejoin="round"/>
<path d="M69.00,157.33 L69.47,157.36 L69.95,157.28 L70.42,157.33 L70.90,157.48 L71.37,157.45 L71.85,157.36 L72.32,157.33 L72.80,157.32 L73.27,157.33 L73.74,157.39 L74.22,157.46 L74.69,157.48 L75.17,157.49 L75.64,157.54 L76.12,157.60 L76.59,157.42 L77.07,157.22 L77.54,157.24 L78.02,157.32 L78.49,157.41 L78.96,157.55 L79.44,157.60 L79.91,157.51 L80.39,157.37 L80.86,157.30 L81.34,157.34 L81.81,157.40 L82.29,157.54 L82.76,157.52 L83.23,157.32 L83.71,157.24 L84.18,157.44 L84.66,157.56 L85.13,157.41 L85.61,157.37 L86.08,157.48 L86.56,157.52 L87.03,157.40 L87.50,157.23 L87.98,157.18 L88.45,157.13 L88.93,156.97 L89.40,157.01 L89.88,157.10 L90.35,157.01 L90.83,156.84 L91.30,156.68 L91.77,156.79 L92.25,157.05 L92.72,157.19 L93.20,157.19 L93.67,157.11 L94.15,157.01 L94.62,156.94 L95.10,156.85 L95.57,156.89 L96.05,156.96 L96.52,157.05 L96.99,157.25 L97.47,157.20 L97.94,156.99 L98.42,156.91 L98.89,156.90 L99.37,156.92 L99.84,157.01 L100.32,157.12 L100.79,157.24 L101.26,157.17 L101.74,156.97 L102.21,156.95 L102.69,156.87 L103.16,156.64 L103.64,156.63 L104.11,156.82 L104.59,156.92 L105.06,156.93 L105.53,156.88 L106.01,156.76 L106.48,156.68 L106.96,156.63 L107.43,156.52 L107.91,156.37 L108.38,156.28 L108.86,156.45 L109.33,156.71 L109.80,156.79 L110.28,156.89 L110.75,156.89 L111.23,156.75 L111.70,156.71 L112.18,156.64 L112.65,156.57 L113.13,156.68 L113.60,156.70 L114.08,156.51 L114.55,156.37 L115.02,156.52 L115.50,156.75 L115.97,156.72 L116.45,156.45 L116.92,156.17 L117.40,156.12 L117.87,156.16 L118.35,156.23 L118.82,156.34 L119.29,156.37 L119.77,156.42 L120.24,156.51 L120.72,156.47 L121.19,156.43 L121.67,156.42 L122.14,156.27 L122.62,156.15 L123.09,156.20 L123.56,156.32 L124.04,156.24 L124.51,156.08 L124.99,156.15 L125.46,156.28 L125.94,156.20 L126.41,156.08 L126.89,156.08 L127.36,155.97 L127.83,155.86 L128.31,156.05 L128.78,156.30 L129.26,156.40 L129.73,156.27 L130.21,156.10 L130.68,156.22 L131.16,156.41 L131.63,156.39 L132.11,156.21 L132.58,156.11 L133.05,156.13 L133.53,156.11 L134.00,156.09 L134.48,156.03 L134.95,155.95 L135.43,155.98 L135.90,156.08 L136.38,156.09 L136.85,156.11 L137.32,156.16 L137.80,156.04 L138.27,155.87 L138.75,155.82 L139.22,155.92 L139.70,156.00 L140.17,156.04 L140.65,156.07 L141.12,156.01 L141.59,155.92 L142.07,155.96 L142.54,156.11 L143.02,156.22 L143.49,156.20 L143.97,156.01 L144.44,155.93 L144.92,155.97 L145.39,156.00 L145.87,155.90 L146.34,155.74 L146.81,155.76 L147.29,155.85 L147.76,155.82 L148.24,155.83 L148.71,155.86 L149.19,155.81 L149.66,155.82 L150.14,155.87 L150.61,155.86 L151.08,155.77 L151.56,155.75 L152.03,155.82 L152.51,155.89 L152.98,155.79 L153.46,155.57 L153.93,155.44 L154.41,155.42 L154.88,155.44 L155.35,155.60 L155.83,155.72 L156.30,155.69 L156.78,155.65 L157.25,155.52 L157.73,155.44 L158.20,155.48 L158.68,155.36 L159.15,155.18 L159.62,155.25 L160.10,155.35 L160.57,155.38 L161.05,155.45 L161.52,155.51 L162.00,155.62 L162.47,155.69 L162.95,155.57 L163.42,155.61 L163.90,155.62 L164.37,155.49 L164.84,155.50 L165.32,155.58 L165.79,155.59 L166.27,155.65 L166.74,155.72 L167.22,155.73 L167.69,155.58 L168.17,155.37 L168.64,155.25 L169.11,155.18 L169.59,155.16 L170.06,155.28 L170.54,155.36 L171.01,155.23 L171.49,155.05 L171.96,155.08 L172.44,155.16 L172.91,155.18 L173.38,155.15 L173.86,155.13 L174.33,155.19 L174.81,155.29 L175.28,155.37 L175.76,155.31 L176.23,155.10 L176.71,154.93 L177.18,154.94 L177.65,155.08 L178.13,155.14 L178.60,155.05 L179.08,155.07 L179.55,155.15 L180.03,154.99 L180.50,154.80 L180.98,154.86 L181.45,155.14 L181.93,155.24 L182.40,155.20 L182.87,155.31 L183.35,155.36 L183.82,155.36 L184.30,155.40 L184.77,155.35 L185.25,155.07 L185.72,154.80 L186.20,154.74 L186.67,154.79 L187.14,154.76 L187.62,154.63 L188.09,154.61 L188.57,154.77 L189.04,154.96 L189.52,155.00 L189.99,154.96 L190.47,154.87 L190.94,154.86 L191.41,154.90 L191.89,154.74 L192.36,154.55 L192.84,154.54 L193.31,154.68 L193.79,154.88 L194.26,154.98 L194.74,154.92 L195.21,154.68 L195.68,154.49 L196.16,154.53 L196.63,154.69 L197.11,154.78 L197.58,154.74 L198.06,154.85 L198.53,155.08 L199.01,155.08 L199.48,154.88 L199.96,154.64 L200.43,154.44 L200.90,154.53 L201.38,154.68 L201.85,154.57 L202.33,154.42 L202.80,154.44 L203.28,154.37 L203.75,154.23 L204.23,154.17 L204.70,154.27 L205.17,154.38 L205.65,154.36 L206.12,154.29 L206.60,154.22 L207.07,154.15 L207.55,154.09 L208.02,154.19 L208.50,154.33 L208.97,154.40 L209.44,154.37 L209.92,154.30 L210.39,154.22 L210.87,154.22 L211.34,154.35 L211.82,154.35 L212.29,154.23 L212.77,154.26 L213.24,154.24 L213.72,154.11 L214.19,154.26 L214.66,154.53 L215.14,154.39 L215.61,154.09 L216.09,154.01 L216.56,154.02 L217.04,154.02 L217.51,154.14 L217.99,154.19 L218.46,154.11 L218.93,154.00 L219.41,153.87 L219.88,153.83 L220.36,153.85 L220.83,153.89 L221.31,154.00 L221.78,153.93 L222.26,153.76 L222.73,153.75 L223.20,153.83 L223.68,153.97 L224.15,154.03 L224.63,153.99 L225.10,153.96 L225.58,153.95 L226.05,153.86 L226.53,153.70 L227.00,153.63 L227.47,153.66 L227.95,153.67 L228.42,153.78 L228.90,154.01 L229.37,153.97 L229.85,153.62 L230.32,153.48 L230.80,153.62 L231.27,153.80 L231.75,153.99 L232.22,154.04 L232.69,153.96 L233.17,153.88 L233.64,153.76 L234.12,153.68 L234.59,153.48 L235.07,153.21 L235.54,153.21 L236.02,153.41 L236.49,153.57 L236.96,153.73 L237.44,153.72 L237.91,153.51 L238.39,153.40 L238.86,153.48 L239.34,153.53 L239.81,153.61 L240.29,153.69 L240.76,153.53 L241.23,153.32 L241.71,153.32 L242.18,153.33 L242.66,153.35 L243.13,153.34 L243.61,153.14 L244.08,152.94 L244.56,152.91 L245.03,153.09 L245.50,153.39 L245.98,153.58 L246.45,153.65 L246.93,153.64 L247.40,153.45 L247.88,153.16 L248.35,153.07 L248.83,153.21 L249.30,153.33 L249.78,153.47 L250.25,153.55 L250.72,153.62 L251.20,153.59 L251.67,153.40 L252.15,153.29 L252.62,153.33 L253.10,153.41 L253.57,153.41 L254.05,153.34 L254.52,153.28 L254.99,153.27 L255.47,153.27 L255.94,153.12 L256.42,152.89 L256.89,152.75 L257.37,152.79 L257.84,153.01 L258.32,153.28 L258.79,153.34 L259.26,153.05 L259.74,152.73 L260.21,152.87 L260.69,153.27 L261.16,153.34 L261.64,153.22 L262.11,153.14 L262.59,153.01 L263.06,152.97 L263.53,153.01 L264.01,153.11 L264.48,153.24 L264.96,153.23 L265.43,153.06 L265.91,152.96 L266.38,153.01 L266.86,152.90 L267.33,152.71 L267.81,152.66 L268.28,152.68 L268.75,152.71 L269.23,152.58 L269.70,152.33 L270.18,152.17 L270.65,152.22 L271.13,152.34 L271.60,152.47 L272.08,152.44 L272.55,152.29 L273.02,152.23 L273.50,152.18 L273.97,152.08 L274.45,151.94 L274.92,152.01 L275.40,152.22 L275.87,152.21 L276.35,152.24 L276.82,152.34 L277.29,152.40 L277.77,152.48 L278.24,152.64 L278.72,152.70 L279.19,152.58 L279.67,152.34 L280.14,152.16 L280.62,152.14 L281.09,152.30 L281.56,152.54 L282.04,152.60 L282.51,152.40 L282.99,152.20 L283.46,152.07 L283.94,152.02 L284.41,152.19 L284.89,152.45 L285.36,152.54 L285.84,152.35 L286.31,152.24 L286.78,152.26 L287.26,152.26 L287.73,152.28 L288.21,152.08 L288.68,151.77 L289.16,151.68 L289.63,151.72 L290.11,151.75 L290.58,151.77 L291.05,151.69 L291.53,151.60 L292.00,151.70 L292.48,151.84 L292.95,152.00 L293.43,152.26 L293.90,152.48 L294.38,152.26 L294.85,151.74 L295.32,151.57 L295.80,151.74 L296.27,151.80 L296.75,151.79 L297.22,151.75 L297.70,151.71 L298.17,151.91 L298.65,152.16 L299.12,152.11 L299.60,151.72 L300.07,151.48 L300.54,151.49 L301.02,151.64 L301.49,151.65 L301.97,151.55 L302.44,151.33 L302.92,151.01 L303.39,150.90 L303.87,151.11 L304.34,151.32 L304.81,151.26 L305.29,151.17 L305.76,151.21 L306.24,151.29 L306.71,151.41 L307.19,151.49 L307.66,151.35 L308.14,151.27 L308.61,151.39 L309.08,151.40 L309.56,151.40 L310.03,151.56 L310.51,151.67 L310.98,151.74 L311.46,151.75 L311.93,151.73 L312.41,151.64 L312.88,151.51 L313.35,151.45 L313.83,151.52 L314.30,151.50 L314.78,151.26 L315.25,151.27 L315.73,151.42 L316.20,151.38 L316.68,151.31 L317.15,151.34 L317.63,151.33 L318.10,151.22 L318.57,151.14 L319.05,151.12 L319.52,151.03 L320.00,150.97 L320.47,150.91 L320.95,150.87 L321.42,151.01 L321.90,151.13 L322.37,151.04 L322.84,150.95 L323.32,150.88 L323.79,150.68 L324.27,150.50 L324.74,150.61 L325.22,150.75 L325.69,150.75 L326.17,150.71 L326.64,150.85 L327.11,151.06 L327.59,151.04 L328.06,150.84 L328.54,150.83 L329.01,151.02 L329.49,150.95 L329.96,150.69 L330.44,150.68 L330.91,150.86 L331.38,150.82 L331.86,150.70 L332.33,150.77 L332.81,150.87 L333.28,150.93 L333.76,150.91 L334.23,150.77 L334.71,150.73 L335.18,150.77 L335.66,150.59 L336.13,150.38 L336.60,150.33 L337.08,150.37 L337.55,150.40 L338.03,150.36 L338.50,150.33 L338.98,150.29 L339.45,150.46 L339.93,150.67 L340.40,150.71 L340.87,150.66 L341.35,150.62 L341.82,150.58 L342.30,150.43 L342.77,150.22 L343.25,150.15 L343.72,150.19 L344.20,150.25 L344.67,150.47 L345.14,150.62 L345.62,150.55 L346.09,150.47 L346.57,150.56 L347.04,150.43 L347.52,149.98 L347.99,149.72 L348.47,149.91 L348.94,150.21 L349.41,150.18 L349.89,150.05 L350.36,150.19 L350.84,150.41 L351.31,150.49 L351.79,150.49 L352.26,150.21 L352.74,149.82 L353.21,149.91 L353.69,150.28 L354.16,150.33 L354.63,150.13 L355.11,150.01 L355.58,149.98 L356.06,150.01 L356.53,150.01 L357.01,150.04 L357.48,150.26 L357.96,150.42 L358.43,150.34 L358.90,150.14 L359.38,149.96 L359.85,149.85 L360.33,149.78 L360.80,149.75 L361.28,149.67 L361.75,149.39 L362.23,149.24 L362.70,149.38 L363.17,149.44 L363.65,149.38 L364.12,149.41 L364.60,149.56 L365.07,149.72 L365.55,149.85 L366.02,149.78 L366.50,149.51 L366.97,149.44 L367.45,149.60 L367.92,149.61 L368.39,149.57 L368.87,149.64 L369.34,149.73 L369.82,149.82 L370.29,149.84 L370.77,149.63 L371.24,149.28 L371.72,149.00 L372.19,149.05 L372.66,149.24 L373.14,149.15 L373.61,148.89 L374.09,148.86 L374.56,149.11 L375.04,149.39 L375.51,149.54 L375.99,149.47 L376.46,149.36 L376.93,149.22 L377.41,149.17 L377.88,149.33 L378.36,149.27 L378.83,149.04 L379.31,148.87 L379.78,148.92 L380.26,149.20 L380.73,149.27 L381.20,149.12 L381.68,149.06 L382.15,149.11 L382.63,149.06 L383.10,148.99 L383.58,149.05 L384.05,148.92 L384.53,148.55 L385.00,148.40 L385.48,148.62 L385.95,148.97 L386.42,149.15 L386.90,149.19 L387.37,149.10 L387.85,148.84 L388.32,148.60 L388.80,148.67 L389.27,148.89 L389.75,148.98 L390.22,148.88 L390.69,148.78 L391.17,148.88 L391.64,148.91 L392.12,148.98 L392.59,149.02 L393.07,148.83 L393.54,148.49 L394.02,148.20 L394.49,148.14 L394.96,148.45 L395.44,148.59 L395.91,148.40 L396.39,148.34 L396.86,148.52 L397.34,148.54 L397.81,148.23 L398.29,148.08 L398.76,148.17 L399.23,148.25 L399.71,148.23 L400.18,148.25 L400.66,148.22 L401.13,148.09 L401.61,148.00 L402.08,148.08 L402.56,148.05 L403.03,147.90 L403.51,147.90 L403.98,147.97 L404.45,147.94 L404.93,147.87 L405.40,147.85 L405.88,147.65 L406.35,147.47 L406.83,147.66 L407.30,147.98 L407.78,148.07 L408.25,148.03 L408.72,148.12 L409.20,148.18 L409.67,148.07 L410.15,147.86 L410.62,147.68 L411.10,147.59 L411.57,147.45 L412.05,147.45 L412.52,147.39 L412.99,147.26 L413.47,147.22 L413.94,147.33 L414.42,147.64 L414.89,147.80 L415.37,147.71 L415.84,147.60 L416.32,147.35 L416.79,147.09 L417.26,147.12 L417.74,147.27 L418.21,147.30 L418.69,147.20 L419.16,147.17 L419.64,147.18 L420.11,147.07 L420.59,146.98 L421.06,146.86 L421.54,146.68 L422.01,146.46 L422.48,146.40 L422.96,146.48 L423.43,146.47 L423.91,146.28 L424.38,146.07 L424.86,146.06 L425.33,146.14 L425.81,146.11 L426.28,146.14 L426.75,146.33 L427.23,146.32 L427.70,146.17 L428.18,146.03 L428.65,146.08 L429.13,146.19 L429.60,146.18 L430.08,145.94 L430.55,145.64 L431.02,145.61 L431.50,145.79 L431.97,145.50 L432.45,145.00 L432.92,145.09 L433.40,145.44 L433.87,145.71 L434.35,145.78 L434.82,145.50 L435.30,145.44 L435.77,145.51 L436.24,145.40 L436.72,145.44 L437.19,145.44 L437.67,145.23 L438.14,145.14 L438.62,145.22 L439.09,145.34 L439.57,145.46 L440.04,145.30 L440.51,144.85 L440.99,144.58 L441.46,144.62 L441.94,144.75 L442.41,144.86 L442.89,144.88 L443.36,144.74 L443.84,144.52 L444.31,144.53 L444.78,144.58 L445.26,144.63 L445.73,144.56 L446.21,144.34 L446.68,144.41 L447.16,144.54 L447.63,144.52 L448.11,144.50 L448.58,144.45 L449.05,144.36 L449.53,144.22 L450.00,144.22 L450.48,144.22 L450.95,144.02 L451.43,144.01 L451.90,144.08 L452.38,143.89 L452.85,143.61 L453.33,143.52 L453.80,143.64 L454.27,143.64 L454.75,143.59 L455.22,143.57 L455.70,143.60 L456.17,143.58 L456.65,143.64 L457.12,143.89 L457.60,143.96 L458.07,143.71 L458.54,143.46 L459.02,143.27 L459.49,143.13 L459.97,143.04 L460.44,142.94 L460.92,142.95 L461.39,142.90 L461.87,142.78 L462.34,142.76 L462.81,142.85 L463.29,142.93 L463.76,143.01 L464.24,142.93 L464.71,142.70 L465.19,142.54 L465.66,142.45 L466.14,142.15 L466.61,141.80 L467.08,141.77 L467.56,141.96 L468.03,141.99 L468.51,141.93 L468.98,141.88 L469.46,141.83 L469.93,141.81 L470.41,141.81 L470.88,141.88 L471.36,141.91 L471.83,141.78 L472.30,141.57 L472.78,141.42 L473.25,141.37 L473.73,141.30 L474.20,141.34 L474.68,141.54 L475.15,141.53 L475.63,141.37 L476.10,141.37 L476.57,141.34 L477.05,141.16 L477.52,141.13 L478.00,141.06 L478.47,140.90 L478.95,141.00 L479.42,141.04 L479.90,140.92 L480.37,140.73 L480.84,140.64 L481.32,140.68 L481.79,140.63 L482.27,140.56 L482.74,140.41 L483.22,140.15 L483.69,140.09 L484.17,140.20 L484.64,140.22 L485.11,140.09 L485.59,139.92 L486.06,139.79 L486.54,139.87 L487.01,140.25 L487.49,140.31 L487.96,140.05 L488.44,139.85 L488.91,139.59 L489.39,139.30 L489.86,138.99 L490.33,138.70 L490.81,138.46 L491.28,138.31 L491.76,138.26 L492.23,138.23 L492.71,138.21 L493.18,138.34 L493.66,138.60 L494.13,138.75 L494.60,138.62 L495.08,138.49 L495.55,138.48 L496.03,138.24 L496.50,137.93 L496.98,137.67 L497.45,137.63 L497.93,137.72 L498.40,137.81 L498.87,137.80 L499.35,137.48 L499.82,137.30 L500.30,137.28 L500.77,137.02 L501.25,136.85 L501.72,136.89 L502.20,136.85 L502.67,136.55 L503.15,136.34 L503.62,136.39 L504.09,136.33 L504.57,135.97 L505.04,135.67 L505.52,135.60 L505.99,135.64 L506.47,135.72 L506.94,135.62 L507.42,135.38 L507.89,135.01 L508.36,134.70 L508.84,134.85 L509.31,135.06 L509.79,135.06 L510.26,135.02 L510.74,134.80 L511.21,134.64 L511.69,134.70 L512.16,134.76 L512.63,134.67 L513.11,134.45 L513.58,134.10 L514.06,133.71 L514.53,133.67 L515.01,133.86 L515.48,133.70 L515.96,133.13 L516.43,132.85 L516.90,132.93 L517.38,133.00 L517.85,132.95 L518.33,132.71 L518.80,132.41 L519.28,132.54 L519.75,132.87 L520.23,132.98 L520.70,132.78 L521.18,132.11 L521.65,131.43 L522.12,130.99 L522.60,130.97 L523.07,131.21 L523.55,131.11 L524.02,130.82 L524.50,130.75 L524.97,130.73 L525.45,130.48 L525.92,130.19 L526.39,130.04 L526.87,130.13 L527.34,130.22 L527.82,130.19 L528.29,130.09 L528.77,129.93 L529.24,129.60 L529.72,129.18 L530.19,128.78 L530.66,128.45 L531.14,128.33 L531.61,128.48 L532.09,128.54 L532.56,128.24 L533.04,128.09 L533.51,128.33 L533.99,128.43 L534.46,128.26 L534.93,128.00 L535.41,127.71 L535.88,127.44 L536.36,127.22 L536.83,127.11 L537.31,126.92 L537.78,126.73 L538.26,126.42 L538.73,125.96 L539.21,125.68 L539.68,125.54 L540.15,125.36 L540.63,125.06 L541.10,124.91 L541.58,125.02 L542.05,124.94 L542.53,124.39 L543.00,123.94 L543.48,123.78 L543.95,123.63 L544.42,123.47 L544.90,123.39 L545.37,123.30 L545.85,122.98 L546.32,122.70 L546.80,122.57 L547.27,122.16 L547.75,121.51 L548.22,121.32 L548.69,121.51 L549.17,121.78 L549.64,121.92 L550.12,121.48 L550.59,120.68 L551.07,120.28 L551.54,120.32 L552.02,119.81 L552.49,118.97 L552.96,118.59 L553.44,118.42 L553.91,118.23 L554.39,118.17 L554.86,117.94 L555.34,117.51 L555.81,117.28 L556.29,117.13 L556.76,116.93 L557.24,116.85 L557.71,116.21 L558.18,115.35 L558.66,115.21 L559.13,115.27 L559.61,115.21 L560.08,114.97 L560.56,114.58 L561.03,113.95 L561.51,113.08 L561.98,112.32 L562.45,111.90 L562.93,111.69 L563.40,111.46 L563.88,110.92 L564.35,110.38 L564.83,110.05 L565.30,109.86 L565.78,109.31 L566.25,108.48 L566.72,107.96 L567.20,107.71 L567.67,107.33 L568.15,106.59 L568.62,105.72 L569.10,105.11 L569.57,104.73 L570.05,104.17 L570.52,103.51 L570.99,102.86 L571.47,102.05 L571.94,101.52 L572.42,101.48 L572.89,101.51 L573.37,101.01 L573.84,100.15 L574.32,99.35 L574.79,98.58 L575.27,97.70 L575.74,97.10 L576.21,96.86 L576.69,96.33 L577.16,95.24 L577.64,94.41 L578.11,93.84 L578.59,93.23 L579.06,92.27 L579.54,91.10 L580.01,89.98 L580.48,88.84 L580.96,87.63 L581.43,86.57 L581.91,85.85 L582.38,84.42 L582.86,82.54 L583.33,81.18 L583.81,80.07 L584.28,78.56 L584.75,76.73 L585.23,75.14 L585.70,73.19 L586.18,71.07 L586.65,69.11 L587.13,67.65 L587.60,66.81 L588.08,65.73 L588.55,64.28 L589.03,62.54 L589.50,60.41 L589.97,58.62 L590.45,57.23 L590.92,55.85 L591.40,54.24 L591.87,52.66 L592.35,51.20 L592.82,49.61 L593.30,48.06 L593.77,47.39 L594.24,46.65 L594.72,45.05 L595.19,43.91 L595.67,42.96 L596.14,42.17 L596.62,42.96 L597.09,44.31 L597.57,44.87 L598.04,45.20 L598.51,45.80 L598.99,46.61 L599.46,48.24 L599.94,50.44 L600.41,52.23 L600.89,54.01 L601.36,56.25 L601.84,58.38 L602.31,60.45 L602.78,63.37 L603.26,66.88 L603.73,70.15 L604.21,73.46 L604.68,77.17 L605.16,81.14 L605.63,85.48 L606.11,90.52 L606.58,95.55 L607.06,100.47 L607.53,105.48 L608.00,110.00 L608.48,114.41 L608.95,119.13 L609.43,123.60 L609.90,127.81 L610.38,132.27 L610.85,136.83 L611.33,141.28 L611.80,145.56 L612.27,149.61 L612.75,153.46 L613.22,157.26 L613.70,161.23 L614.17,165.08 L614.65,168.58 L615.12,171.78 L615.60,174.66 L616.07,177.08 L616.54,179.19 L617.02,181.15 L617.49,182.82 L617.97,184.27 L618.44,185.67 L618.92,187.01 L619.39,188.19 L619.87,189.27 L620.34,190.25 L620.81,191.19 L621.29,192.07 L621.76,192.89 L622.24,193.68 L622.71,194.45 L623.19,195.17 L623.66,195.86 L624.14,196.49 L624.61,197.04 L625.09,197.49 L625.56,197.84 L626.03,198.11 L626.51,198.33 L626.98,198.51 L627.46,198.67 L627.93,198.82 L628.41,198.95 L628.88,199.07 L629.36,199.18 L629.83,199.27 L630.30,199.35 L630.78,199.41 L631.25,199.46 L631.73,199.49 L632.20,199.50 L632.68,199.50 L633.15,199.50 L633.63,199.50 L634.10,199.50 L634.57,199.50 L635.05,199.50 L635.52,199.50 L636.00,199.50 L636.47,199.50 L636.95,199.50 L637.42,199.50 L637.90,199.50" fill="none" stroke="#777777" stroke-width="1.7" stroke-linejoin="round"/>
<circle cx="198.97" cy="154.50" r="2.8" fill="none" stroke="#ff1a1a" stroke-width="2.2"/>
<circle cx="300.05" cy="144.15" r="2.8" fill="none" stroke="#ff1a1a" stroke-width="2.2"/>
<circle cx="367.55" cy="114.00" r="2.8" fill="none" stroke="#ff1a1a" stroke-width="2.2"/>
<circle cx="375.61" cy="98.70" r="2.8" fill="none" stroke="#ff1a1a" stroke-width="2.2"/>
<circle cx="384.01" cy="76.20" r="2.8" fill="none" stroke="#ff1a1a" stroke-width="2.2"/>
<circle cx="392.07" cy="60.45" r="2.8" fill="none" stroke="#ff1a1a" stroke-width="2.2"/>
<circle cx="401.14" cy="104.55" r="2.8" fill="none" stroke="#ff1a1a" stroke-width="2.2"/>
<circle cx="409.20" cy="170.70" r="2.8" fill="none" stroke="#ff1a1a" stroke-width="2.2"/>
<circle cx="209.04" cy="154.50" r="2.8" fill="none" stroke="#ff1a1a" stroke-width="2.2"/>
<circle cx="309.79" cy="151.35" r="2.8" fill="none" stroke="#ff1a1a" stroke-width="2.2"/>
<circle cx="444.79" cy="144.60" r="2.8" fill="none" stroke="#ff1a1a" stroke-width="2.2"/>
<circle cx="511.62" cy="134.93" r="2.8" fill="none" stroke="#ff1a1a" stroke-width="2.2"/>
<circle cx="578.79" cy="92.85" r="2.8" fill="none" stroke="#ff1a1a" stroke-width="2.2"/>
<circle cx="587.19" cy="68.10" r="2.8" fill="none" stroke="#ff1a1a" stroke-width="2.2"/>
<circle cx="595.58" cy="42.45" r="2.8" fill="none" stroke="#ff1a1a" stroke-width="2.2"/>
<circle cx="603.98" cy="70.35" r="2.8" fill="none" stroke="#ff1a1a" stroke-width="2.2"/>
<circle cx="612.04" cy="147.75" r="2.8" fill="none" stroke="#ff1a1a" stroke-width="2.2"/>
<path d="M69.00,382.80 L69.63,382.96 L70.27,383.05 L70.90,383.09 L71.53,382.97 L72.16,382.82 L72.80,382.85 L73.43,382.99 L74.06,383.13 L74.70,383.07 L75.33,382.97 L75.96,382.96 L76.59,382.66 L77.23,382.27 L77.86,382.38 L78.49,382.68 L79.12,382.68 L79.76,382.66 L80.39,382.84 L81.02,382.68 L81.66,382.39 L82.29,382.33 L82.92,382.34 L83.55,382.39 L84.19,382.30 L84.82,382.17 L85.45,382.09 L86.09,382.01 L86.72,381.88 L87.35,381.81 L87.98,381.94 L88.62,382.06 L89.25,382.07 L89.88,382.16 L90.52,382.38 L91.15,382.45 L91.78,382.21 L92.41,381.89 L93.05,381.72 L93.68,381.36 L94.31,380.91 L94.95,380.98 L95.58,381.32 L96.21,381.37 L96.84,381.22 L97.48,381.16 L98.11,380.98 L98.74,380.84 L99.37,380.88 L100.01,381.04 L100.64,381.19 L101.27,381.31 L101.91,381.10 L102.54,380.79 L103.17,380.87 L103.80,381.04 L104.44,380.85 L105.07,380.70 L105.70,380.79 L106.34,380.89 L106.97,380.85 L107.60,380.66 L108.23,380.38 L108.87,380.20 L109.50,380.14 L110.13,380.30 L110.77,380.46 L111.40,380.22 L112.03,380.02 L112.66,380.20 L113.30,380.34 L113.93,380.41 L114.56,380.33 L115.20,380.02 L115.83,379.73 L116.46,379.63 L117.09,379.65 L117.73,379.79 L118.36,379.92 L118.99,379.76 L119.62,379.63 L120.26,379.69 L120.89,379.74 L121.52,379.67 L122.16,379.56 L122.79,379.73 L123.42,379.84 L124.05,379.69 L124.69,379.51 L125.32,379.24 L125.95,379.02 L126.59,379.02 L127.22,378.91 L127.85,378.84 L128.48,379.03 L129.12,378.91 L129.75,378.53 L130.38,378.27 L131.02,378.33 L131.65,378.63 L132.28,378.77 L132.91,378.84 L133.55,378.98 L134.18,379.09 L134.81,379.02 L135.45,378.71 L136.08,378.56 L136.71,378.60 L137.34,378.57 L137.98,378.72 L138.61,378.98 L139.24,378.91 L139.87,378.40 L140.51,378.16 L141.14,378.31 L141.77,378.48 L142.41,378.45 L143.04,378.22 L143.67,378.04 L144.30,377.99 L144.94,378.15 L145.57,378.44 L146.20,378.44 L146.84,378.27 L147.47,378.17 L148.10,377.91 L148.73,377.77 L149.37,377.83 L150.00,377.70 L150.63,377.58 L151.27,377.60 L151.90,377.66 L152.53,377.53 L153.16,377.21 L153.80,376.96 L154.43,377.03 L155.06,377.32 L155.69,377.54 L156.33,377.51 L156.96,377.44 L157.59,377.30 L158.23,377.06 L158.86,376.88 L159.49,376.88 L160.12,376.95 L160.76,376.91 L161.39,376.88 L162.02,376.98 L162.66,376.87 L163.29,376.67 L163.92,376.64 L164.55,376.52 L165.19,376.27 L165.82,376.16 L166.45,376.47 L167.09,376.87 L167.72,376.82 L168.35,376.54 L168.98,376.33 L169.62,376.15 L170.25,376.01 L170.88,376.24 L171.52,376.71 L172.15,376.96 L172.78,376.80 L173.41,376.39 L174.05,376.35 L174.68,376.61 L175.31,376.76 L175.94,376.60 L176.58,376.40 L177.21,376.41 L177.84,376.43 L178.48,376.21 L179.11,376.02 L179.74,376.29 L180.37,376.59 L181.01,376.52 L181.64,376.35 L182.27,376.27 L182.91,376.33 L183.54,376.37 L184.17,376.24 L184.80,376.14 L185.44,375.98 L186.07,375.58 L186.70,375.64 L187.34,376.08 L187.97,376.01 L188.60,375.56 L189.23,375.30 L189.87,375.54 L190.50,376.11 L191.13,376.28 L191.77,376.04 L192.40,375.86 L193.03,375.83 L193.66,375.65 L194.30,375.49 L194.93,375.58 L195.56,375.76 L196.19,375.69 L196.83,375.57 L197.46,375.44 L198.09,375.26 L198.73,375.19 L199.36,375.14 L199.99,375.07 L200.62,374.84 L201.26,374.86 L201.89,375.15 L202.52,375.22 L203.16,375.23 L203.79,375.22 L204.42,375.04 L205.05,375.01 L205.69,375.12 L206.32,374.99 L206.95,374.84 L207.59,374.91 L208.22,374.86 L208.85,374.72 L209.48,374.75 L210.12,374.61 L210.75,374.41 L211.38,374.61 L212.02,374.94 L212.65,374.90 L213.28,374.68 L213.91,374.47 L214.55,374.27 L215.18,374.18 L215.81,374.16 L216.44,374.04 L217.08,373.88 L217.71,373.98 L218.34,374.10 L218.98,373.89 L219.61,373.88 L220.24,374.08 L220.87,374.32 L221.51,374.34 L222.14,374.07 L222.77,373.63 L223.41,373.45 L224.04,373.56 L224.67,373.63 L225.30,373.67 L225.94,373.80 L226.57,373.81 L227.20,373.60 L227.84,373.36 L228.47,373.40 L229.10,373.47 L229.73,373.21 L230.37,372.88 L231.00,372.79 L231.63,372.87 L232.26,372.69 L232.90,372.51 L233.53,372.73 L234.16,372.86 L234.80,372.81 L235.43,372.82 L236.06,372.84 L236.69,372.85 L237.33,372.73 L237.96,372.55 L238.59,372.62 L239.23,372.73 L239.86,372.60 L240.49,372.36 L241.12,372.06 L241.76,371.78 L242.39,371.81 L243.02,372.21 L243.66,372.46 L244.29,372.44 L244.92,372.11 L245.55,371.92 L246.19,372.07 L246.82,372.24 L247.45,372.28 L248.09,372.03 L248.72,371.48 L249.35,371.20 L249.98,371.27 L250.62,371.23 L251.25,371.40 L251.88,371.52 L252.51,371.23 L253.15,370.96 L253.78,370.94 L254.41,370.86 L255.05,370.71 L255.68,370.72 L256.31,370.72 L256.94,370.82 L257.58,371.22 L258.21,371.53 L258.84,371.42 L259.48,371.03 L260.11,370.87 L260.74,370.95 L261.37,370.70 L262.01,370.43 L262.64,370.48 L263.27,370.30 L263.91,370.06 L264.54,370.11 L265.17,370.30 L265.80,370.29 L266.44,370.13 L267.07,369.90 L267.70,369.88 L268.34,369.90 L268.97,369.91 L269.60,369.94 L270.23,369.91 L270.87,369.60 L271.50,369.30 L272.13,369.09 L272.76,368.89 L273.40,368.85 L274.03,368.82 L274.66,368.68 L275.30,368.68 L275.93,368.96 L276.56,369.09 L277.19,368.92 L277.83,368.69 L278.46,368.52 L279.09,368.45 L279.73,368.53 L280.36,368.65 L280.99,368.61 L281.62,368.67 L282.26,368.69 L282.89,368.41 L283.52,368.31 L284.16,368.30 L284.79,368.21 L285.42,368.31 L286.05,368.35 L286.69,367.96 L287.32,367.42 L287.95,367.19 L288.59,367.31 L289.22,367.56 L289.85,367.47 L290.48,367.09 L291.12,366.97 L291.75,367.31 L292.38,367.71 L293.01,367.66 L293.65,367.33 L294.28,367.20 L294.91,366.85 L295.55,366.22 L296.18,365.91 L296.81,366.24 L297.44,366.52 L298.08,366.41 L298.71,366.16 L299.34,366.01 L299.98,366.22 L300.61,366.69 L301.24,366.84 L301.87,366.51 L302.51,366.14 L303.14,365.98 L303.77,366.10 L304.41,366.12 L305.04,366.07 L305.67,365.80 L306.30,365.37 L306.94,365.31 L307.57,365.36 L308.20,365.35 L308.83,365.46 L309.47,365.42 L310.10,365.04 L310.73,364.56 L311.37,364.43 L312.00,364.39 L312.63,364.37 L313.26,364.55 L313.90,364.78 L314.53,364.77 L315.16,364.41 L315.80,364.14 L316.43,364.01 L317.06,363.99 L317.69,364.13 L318.33,364.12 L318.96,364.15 L319.59,363.99 L320.23,363.50 L320.86,363.22 L321.49,363.43 L322.12,363.51 L322.76,363.04 L323.39,362.33 L324.02,362.04 L324.66,361.85 L325.29,361.68 L325.92,362.06 L326.55,362.49 L327.19,362.35 L327.82,361.80 L328.45,361.33 L329.08,361.31 L329.72,361.24 L330.35,361.08 L330.98,360.88 L331.62,360.63 L332.25,360.51 L332.88,360.53 L333.51,360.49 L334.15,360.30 L334.78,360.07 L335.41,359.71 L336.05,359.24 L336.68,358.84 L337.31,358.51 L337.94,358.14 L338.58,357.87 L339.21,358.02 L339.84,357.96 L340.48,357.57 L341.11,357.33 L341.74,356.98 L342.37,356.61 L343.01,356.49 L343.64,356.26 L344.27,355.86 L344.91,355.73 L345.54,355.86 L346.17,355.85 L346.80,355.69 L347.44,355.54 L348.07,355.22 L348.70,354.67 L349.33,353.99 L349.97,353.58 L350.60,353.57 L351.23,353.58 L351.87,353.53 L352.50,353.25 L353.13,352.61 L353.76,351.91 L354.40,351.48 L355.03,351.40 L355.66,351.66 L356.30,351.61 L356.93,350.70 L357.56,349.85 L358.19,349.50 L358.83,349.20 L359.46,348.71 L360.09,348.32 L360.73,348.28 L361.36,348.15 L361.99,348.03 L362.62,348.05 L363.26,348.13 L363.89,348.14 L364.52,347.89 L365.15,347.42 L365.79,347.25 L366.42,347.22 L367.05,346.90 L367.69,346.18 L368.32,345.34 L368.95,344.99 L369.58,344.93 L370.22,344.80 L370.85,344.19 L371.48,343.30 L372.12,342.65 L372.75,341.83 L373.38,340.74 L374.01,340.03 L374.65,339.79 L375.28,339.52 L375.91,339.01 L376.55,338.18 L377.18,337.36 L377.81,337.04 L378.44,336.74 L379.08,336.22 L379.71,335.14 L380.34,333.65 L380.98,332.45 L381.61,331.70 L382.24,331.17 L382.87,330.55 L383.51,329.63 L384.14,328.34 L384.77,326.84 L385.40,325.75 L386.04,325.30 L386.67,325.02 L387.30,324.33 L387.94,323.34 L388.57,322.64 L389.20,321.81 L389.83,320.50 L390.47,319.73 L391.10,319.51 L391.73,319.31 L392.37,318.87 L393.00,318.53 L393.63,318.71 L394.26,318.78 L394.90,318.66 L395.53,318.92 L396.16,319.95 L396.80,321.25 L397.43,322.23 L398.06,322.94 L398.69,324.02 L399.33,325.49 L399.96,326.98 L400.59,328.80 L401.23,330.76 L401.86,332.10 L402.49,333.04 L403.12,334.40 L403.76,336.46 L404.39,338.75 L405.02,340.76 L405.65,342.52 L406.29,344.56 L406.92,346.67 L407.55,348.40 L408.19,350.02 L408.82,351.54 L409.45,353.02 L410.08,354.54 L410.72,356.10 L411.35,357.86 L411.98,359.60 L412.62,360.71 L413.25,361.40 L413.88,362.46 L414.51,363.79 L415.15,364.52 L415.78,364.48 L416.41,364.63 L417.05,365.40 L417.68,366.33 L418.31,367.19 L418.94,367.89 L419.58,367.87 L420.21,367.57 L420.84,367.80 L421.48,368.21 L422.11,368.12 L422.74,368.05 L423.37,368.29 L424.01,368.69 L424.64,369.08 L425.27,369.29 L425.90,369.25 L426.54,369.34 L427.17,369.66 L427.80,369.83 L428.44,369.87 L429.07,369.86 L429.70,370.23 L430.33,370.73 L430.97,370.68 L431.60,370.64 L432.23,370.96 L432.87,371.27 L433.50,371.52 L434.13,371.71 L434.76,371.57 L435.40,371.35 L436.03,371.37 L436.66,371.46 L437.30,371.63 L437.93,371.92 L438.56,372.19 L439.19,372.19 L439.83,372.13 L440.46,372.42 L441.09,373.02 L441.72,373.58 L442.36,373.81 L442.99,373.82 L443.62,374.03 L444.26,374.36 L444.89,374.34 L445.52,374.27 L446.15,374.38 L446.79,374.37 L447.42,374.24 L448.05,374.59 L448.69,375.17 L449.32,375.28 L449.95,375.07 L450.58,375.07 L451.22,375.27 L451.85,375.48 L452.48,375.68 L453.12,375.88 L453.75,376.01 L454.38,376.20 L455.01,376.49 L455.65,376.31 L456.28,376.06 L456.91,376.22 L457.55,376.21 L458.18,375.87 L458.81,375.92 L459.44,376.32 L460.08,376.62 L460.71,376.74 L461.34,376.81 L461.97,376.91 L462.61,376.96 L463.24,377.02 L463.87,377.35 L464.51,377.73 L465.14,377.78 L465.77,377.75 L466.40,377.98 L467.04,378.02 L467.67,377.66 L468.30,377.66 L468.94,377.98 L469.57,378.11 L470.20,378.00 L470.83,378.05 L471.47,378.36 L472.10,378.61 L472.73,378.80 L473.37,379.05 L474.00,379.42 L474.63,379.62 L475.26,379.48 L475.90,379.36 L476.53,379.42 L477.16,379.52 L477.80,379.50 L478.43,379.54 L479.06,379.67 L479.69,379.84 L480.33,379.97 L480.96,380.19 L481.59,380.38 L482.22,380.65 L482.86,381.06 L483.49,381.07 L484.12,380.96 L484.76,381.22 L485.39,381.30 L486.02,381.10 L486.65,381.09 L487.29,381.41 L487.92,381.72 L488.55,381.92 L489.19,381.86 L489.82,381.71 L490.45,381.80 L491.08,381.96 L491.72,382.06 L492.35,382.18 L492.98,382.37 L493.62,382.61 L494.25,382.74 L494.88,382.75 L495.51,382.74 L496.15,382.47 L496.78,382.19 L497.41,382.21 L498.05,382.55 L498.68,383.10 L499.31,383.44 L499.94,383.69 L500.58,383.97 L501.21,384.15 L501.84,384.02 L502.47,383.68 L503.11,383.50 L503.74,383.48 L504.37,383.60 L505.01,383.92 L505.64,384.25 L506.27,384.30 L506.90,384.17 L507.54,384.24 L508.17,384.57 L508.80,384.79 L509.44,384.72 L510.07,384.57 L510.70,384.73 L511.33,385.08 L511.97,385.29 L512.60,385.43 L513.23,385.64 L513.87,385.70 L514.50,385.72 L515.13,385.72 L515.76,385.59 L516.40,385.33 L517.03,385.21 L517.66,385.51 L518.29,385.94 L518.93,386.34 L519.56,386.42 L520.19,386.11 L520.83,386.08 L521.46,386.43 L522.09,386.56 L522.72,386.57 L523.36,386.90 L523.99,387.19 L524.62,387.07 L525.26,387.01 L525.89,387.14 L526.52,387.26 L527.15,387.21 L527.79,387.28 L528.42,387.53 L529.05,387.71 L529.69,387.91 L530.32,388.10 L530.95,388.22 L531.58,388.25 L532.22,388.17 L532.85,388.10 L533.48,388.28 L534.12,388.37 L534.75,388.21 L535.38,388.15 L536.01,388.27 L536.65,388.43 L537.28,388.57 L537.91,388.79 L538.54,388.96 L539.18,388.93 L539.81,388.89 L540.44,388.90 L541.08,389.06 L541.71,389.30 L542.34,389.35 L542.97,389.36 L543.61,389.33 L544.24,389.26 L544.87,389.33 L545.51,389.38 L546.14,389.31 L546.77,389.24 L547.40,389.16 L548.04,389.23 L548.67,389.52 L549.30,389.68 L549.94,389.53 L550.57,389.38 L551.20,389.52 L551.83,389.83 L552.47,389.97 L553.10,389.86 L553.73,389.59 L554.37,389.29 L555.00,389.10 L555.63,388.98 L556.26,388.86 L556.90,388.73 L557.53,388.75 L558.16,388.81 L558.79,388.78 L559.43,388.59 L560.06,388.35 L560.69,388.22 L561.33,388.21 L561.96,388.24 L562.59,388.02 L563.22,387.75 L563.86,387.75 L564.49,387.80 L565.12,387.73 L565.76,387.53 L566.39,387.15 L567.02,386.78 L567.65,386.65 L568.29,386.65 L568.92,386.55 L569.55,386.09 L570.19,385.48 L570.82,385.21 L571.45,385.01 L572.08,384.65 L572.72,384.22 L573.35,383.75 L573.98,383.15 L574.62,382.61 L575.25,382.26 L575.88,381.80 L576.51,381.25 L577.15,380.75 L577.78,380.29 L578.41,379.84 L579.04,379.53 L579.68,379.19 L580.31,378.60 L580.94,377.91 L581.58,377.19 L582.21,376.35 L582.84,375.63 L583.47,375.16 L584.11,374.62 L584.74,374.19 L585.37,373.99 L586.01,373.75 L586.64,373.46 L587.27,373.51 L587.90,373.92 L588.54,374.45 L589.17,375.13 L589.80,375.93 L590.44,376.65 L591.07,377.53 L591.70,378.92 L592.33,380.86 L592.97,382.76 L593.60,384.60 L594.23,386.68 L594.86,388.94 L595.50,391.34 L596.13,393.93 L596.76,396.66 L597.40,399.61 L598.03,402.73 L598.66,405.89 L599.29,409.07 L599.93,412.23 L600.56,415.62 L601.19,419.11 L601.83,422.35 L602.46,425.26 L603.09,427.77 L603.72,429.94 L604.36,431.85 L604.99,433.54 L605.62,435.05 L606.26,436.46 L606.89,437.80 L607.52,439.07 L608.15,440.24 L608.79,441.29 L609.42,442.26 L610.05,443.08 L610.69,443.74 L611.32,444.28 L611.95,444.75 L612.58,445.16 L613.22,445.53 L613.85,445.87 L614.48,446.18 L615.11,446.45 L615.75,446.67 L616.38,446.83 L617.01,446.94 L617.65,447.02 L618.28,447.08 L618.91,447.13 L619.54,447.17 L620.18,447.21 L620.81,447.25 L621.44,447.30 L622.08,447.34 L622.71,447.37 L623.34,447.40 L623.97,447.43 L624.61,447.46 L625.24,447.47 L625.87,447.49 L626.51,447.50 L627.14,447.50 L627.77,447.50 L628.40,447.50 L629.04,447.50 L629.67,447.50 L630.30,447.50 L630.94,447.50 L631.57,447.50 L632.20,447.50 L632.83,447.50 L633.47,447.50 L634.10,447.50 L634.73,447.50 L635.36,447.50 L636.00,447.50 L636.63,447.50 L637.26,447.50 L637.90,447.50" fill="none" stroke="#1f6cc6" stroke-width="2.5" stroke-linejoin="round"/>
<path d="M69.00,383.89 L69.63,383.86 L70.27,383.87 L70.90,383.99 L71.53,383.79 L72.16,383.32 L72.80,382.94 L73.43,382.71 L74.06,382.27 L74.70,381.92 L75.33,382.35 L75.96,383.29 L76.59,383.79 L77.23,383.73 L77.86,383.76 L78.49,384.03 L79.12,384.08 L79.76,383.67 L80.39,382.71 L81.02,381.69 L81.66,381.63 L82.29,382.39 L82.92,382.98 L83.55,383.29 L84.19,383.18 L84.82,382.65 L85.45,382.32 L86.09,382.18 L86.72,381.96 L87.35,381.78 L87.98,381.66 L88.62,381.68 L89.25,381.65 L89.88,381.68 L90.52,381.68 L91.15,381.85 L91.78,382.27 L92.41,382.28 L93.05,381.97 L93.68,381.75 L94.31,381.79 L94.95,382.11 L95.58,382.19 L96.21,381.80 L96.84,381.49 L97.48,381.27 L98.11,380.78 L98.74,380.49 L99.37,380.49 L100.01,380.70 L100.64,380.74 L101.27,380.53 L101.91,380.70 L102.54,380.68 L103.17,380.47 L103.80,380.53 L104.44,380.83 L105.07,381.10 L105.70,380.97 L106.34,380.49 L106.97,380.22 L107.60,380.30 L108.23,380.20 L108.87,380.14 L109.50,380.36 L110.13,380.64 L110.77,380.88 L111.40,380.95 L112.03,380.52 L112.66,380.16 L113.30,380.06 L113.93,379.88 L114.56,379.88 L115.20,379.92 L115.83,379.70 L116.46,379.34 L117.09,379.19 L117.73,379.81 L118.36,380.26 L118.99,380.01 L119.62,379.40 L120.26,379.04 L120.89,379.15 L121.52,379.00 L122.16,378.48 L122.79,378.58 L123.42,379.18 L124.05,379.69 L124.69,379.79 L125.32,379.20 L125.95,378.88 L126.59,379.50 L127.22,379.92 L127.85,379.88 L128.48,379.74 L129.12,379.37 L129.75,379.47 L130.38,379.42 L131.02,378.82 L131.65,378.38 L132.28,378.85 L132.91,379.73 L133.55,379.86 L134.18,379.60 L134.81,379.61 L135.45,379.35 L136.08,378.79 L136.71,378.22 L137.34,378.40 L137.98,378.96 L138.61,378.64 L139.24,378.33 L139.87,378.66 L140.51,378.98 L141.14,378.97 L141.77,378.49 L142.41,377.73 L143.04,377.15 L143.67,377.24 L144.30,377.89 L144.94,378.25 L145.57,378.55 L146.20,379.18 L146.84,378.84 L147.47,377.58 L148.10,377.03 L148.73,377.56 L149.37,378.06 L150.00,378.21 L150.63,378.05 L151.27,377.92 L151.90,377.85 L152.53,377.61 L153.16,377.43 L153.80,377.42 L154.43,377.70 L155.06,377.86 L155.69,377.45 L156.33,377.13 L156.96,377.04 L157.59,376.75 L158.23,376.82 L158.86,377.17 L159.49,377.35 L160.12,377.47 L160.76,377.28 L161.39,376.70 L162.02,376.57 L162.66,376.93 L163.29,377.08 L163.92,376.80 L164.55,376.30 L165.19,376.20 L165.82,376.58 L166.45,376.68 L167.09,376.46 L167.72,376.13 L168.35,376.24 L168.98,377.13 L169.62,377.73 L170.25,377.52 L170.88,376.98 L171.52,376.41 L172.15,376.47 L172.78,376.57 L173.41,376.37 L174.05,376.34 L174.68,376.40 L175.31,376.17 L175.94,375.88 L176.58,375.66 L177.21,375.51 L177.84,376.15 L178.48,376.85 L179.11,376.77 L179.74,376.55 L180.37,375.73 L181.01,374.91 L181.64,375.33 L182.27,376.30 L182.91,376.48 L183.54,375.90 L184.17,375.50 L184.80,375.56 L185.44,375.46 L186.07,375.52 L186.70,375.71 L187.34,375.56 L187.97,375.58 L188.60,376.24 L189.23,376.25 L189.87,375.54 L190.50,375.52 L191.13,376.24 L191.77,376.60 L192.40,376.33 L193.03,375.82 L193.66,375.38 L194.30,374.87 L194.93,374.78 L195.56,375.02 L196.19,375.08 L196.83,374.92 L197.46,374.88 L198.09,375.02 L198.73,374.99 L199.36,374.88 L199.99,374.85 L200.62,374.88 L201.26,375.21 L201.89,375.35 L202.52,374.77 L203.16,374.11 L203.79,374.41 L204.42,375.21 L205.05,375.36 L205.69,375.31 L206.32,375.31 L206.95,375.26 L207.59,375.23 L208.22,375.20 L208.85,375.07 L209.48,375.14 L210.12,375.57 L210.75,375.85 L211.38,375.75 L212.02,375.33 L212.65,374.92 L213.28,374.87 L213.91,374.65 L214.55,374.22 L215.18,373.92 L215.81,373.78 L216.44,373.69 L217.08,373.79 L217.71,373.83 L218.34,374.01 L218.98,374.23 L219.61,373.71 L220.24,373.18 L220.87,373.32 L221.51,373.25 L222.14,372.85 L222.77,372.94 L223.41,373.56 L224.04,374.26 L224.67,374.12 L225.30,373.60 L225.94,373.05 L226.57,372.80 L227.20,373.23 L227.84,373.99 L228.47,374.18 L229.10,373.16 L229.73,372.40 L230.37,372.63 L231.00,372.86 L231.63,372.50 L232.26,371.99 L232.90,371.65 L233.53,371.77 L234.16,372.62 L234.80,373.01 L235.43,372.39 L236.06,371.99 L236.69,372.30 L237.33,372.66 L237.96,373.01 L238.59,373.32 L239.23,373.45 L239.86,373.24 L240.49,372.40 L241.12,371.69 L241.76,371.71 L242.39,372.30 L243.02,372.86 L243.66,373.11 L244.29,372.49 L244.92,371.08 L245.55,370.51 L246.19,371.27 L246.82,371.58 L247.45,371.34 L248.09,371.33 L248.72,371.29 L249.35,371.31 L249.98,371.16 L250.62,370.97 L251.25,371.27 L251.88,371.39 L252.51,370.98 L253.15,370.94 L253.78,371.23 L254.41,371.17 L255.05,370.89 L255.68,370.78 L256.31,370.42 L256.94,370.04 L257.58,370.01 L258.21,370.21 L258.84,370.46 L259.48,370.05 L260.11,369.35 L260.74,369.04 L261.37,369.28 L262.01,369.60 L262.64,370.12 L263.27,370.66 L263.91,370.70 L264.54,370.24 L265.17,369.81 L265.80,369.76 L266.44,369.39 L267.07,368.71 L267.70,368.26 L268.34,368.19 L268.97,368.62 L269.60,369.41 L270.23,369.48 L270.87,368.84 L271.50,368.40 L272.13,368.67 L272.76,369.24 L273.40,369.57 L274.03,369.57 L274.66,369.34 L275.30,369.26 L275.93,368.63 L276.56,367.94 L277.19,368.20 L277.83,368.82 L278.46,368.77 L279.09,368.48 L279.73,367.98 L280.36,367.51 L280.99,367.99 L281.62,368.79 L282.26,368.65 L282.89,367.98 L283.52,368.04 L284.16,368.73 L284.79,369.00 L285.42,368.54 L286.05,367.86 L286.69,367.42 L287.32,367.26 L287.95,366.94 L288.59,367.06 L289.22,367.69 L289.85,367.41 L290.48,366.75 L291.12,366.79 L291.75,366.77 L292.38,366.71 L293.01,367.13 L293.65,367.56 L294.28,367.51 L294.91,367.03 L295.55,366.99 L296.18,367.44 L296.81,367.44 L297.44,366.47 L298.08,365.95 L298.71,366.09 L299.34,366.41 L299.98,367.00 L300.61,366.94 L301.24,366.22 L301.87,365.82 L302.51,366.68 L303.14,366.98 L303.77,366.12 L304.41,365.09 L305.04,364.65 L305.67,364.70 L306.30,364.51 L306.94,364.23 L307.57,364.47 L308.20,364.31 L308.83,364.20 L309.47,364.82 L310.10,364.76 L310.73,364.05 L311.37,364.08 L312.00,364.36 L312.63,363.69 L313.26,362.90 L313.90,362.92 L314.53,363.02 L315.16,363.12 L315.80,362.86 L316.43,362.02 L317.06,361.57 L317.69,361.73 L318.33,362.14 L318.96,362.21 L319.59,361.99 L320.23,361.91 L320.86,362.02 L321.49,361.77 L322.12,361.48 L322.76,361.79 L323.39,361.90 L324.02,361.72 L324.66,361.74 L325.29,361.70 L325.92,361.10 L326.55,360.37 L327.19,360.22 L327.82,359.90 L328.45,359.42 L329.08,359.35 L329.72,359.01 L330.35,359.07 L330.98,359.51 L331.62,359.24 L332.25,358.32 L332.88,357.34 L333.51,357.21 L334.15,357.94 L334.78,358.67 L335.41,358.68 L336.05,358.18 L336.68,357.75 L337.31,357.11 L337.94,356.33 L338.58,355.55 L339.21,355.04 L339.84,354.96 L340.48,354.88 L341.11,354.53 L341.74,353.82 L342.37,353.08 L343.01,352.59 L343.64,352.94 L344.27,353.93 L344.91,354.04 L345.54,352.91 L346.17,352.12 L346.80,351.86 L347.44,351.36 L348.07,351.24 L348.70,351.30 L349.33,351.46 L349.97,351.96 L350.60,351.90 L351.23,351.17 L351.87,350.41 L352.50,349.68 L353.13,349.65 L353.76,349.89 L354.40,349.01 L355.03,348.15 L355.66,348.06 L356.30,347.61 L356.93,347.06 L357.56,345.88 L358.19,343.71 L358.83,342.45 L359.46,342.26 L360.09,341.38 L360.73,339.70 L361.36,338.67 L361.99,338.24 L362.62,337.63 L363.26,337.13 L363.89,336.49 L364.52,335.58 L365.15,334.76 L365.79,333.93 L366.42,333.42 L367.05,332.96 L367.69,331.91 L368.32,330.33 L368.95,329.11 L369.58,328.82 L370.22,328.64 L370.85,328.08 L371.48,327.87 L372.12,327.28 L372.75,325.64 L373.38,323.80 L374.01,322.56 L374.65,321.54 L375.28,320.60 L375.91,320.38 L376.55,320.36 L377.18,319.89 L377.81,319.39 L378.44,318.71 L379.08,318.30 L379.71,318.74 L380.34,319.12 L380.98,318.55 L381.61,317.91 L382.24,317.80 L382.87,318.33 L383.51,319.15 L384.14,319.11 L384.77,318.08 L385.40,317.75 L386.04,318.44 L386.67,318.93 L387.30,319.30 L387.94,320.83 L388.57,322.84 L389.20,324.57 L389.83,326.41 L390.47,328.25 L391.10,330.32 L391.73,332.77 L392.37,335.59 L393.00,338.26 L393.63,340.45 L394.26,343.10 L394.90,346.42 L395.53,349.27 L396.16,351.21 L396.80,352.69 L397.43,354.47 L398.06,356.50 L398.69,358.60 L399.33,360.50 L399.96,362.53 L400.59,364.35 L401.23,365.94 L401.86,367.74 L402.49,369.24 L403.12,370.26 L403.76,371.11 L404.39,371.60 L405.02,372.48 L405.65,374.24 L406.29,375.90 L406.92,377.01 L407.55,377.34 L408.19,377.19 L408.82,377.32 L409.45,377.72 L410.08,378.32 L410.72,379.12 L411.35,379.35 L411.98,378.86 L412.62,378.61 L413.25,378.75 L413.88,379.10 L414.51,379.48 L415.15,379.92 L415.78,380.16 L416.41,380.15 L417.05,379.92 L417.68,379.90 L418.31,380.76 L418.94,381.74 L419.58,381.58 L420.21,381.03 L420.84,380.87 L421.48,381.23 L422.11,381.76 L422.74,382.02 L423.37,381.97 L424.01,381.65 L424.64,381.19 L425.27,381.18 L425.90,381.29 L426.54,381.03 L427.17,381.01 L427.80,381.66 L428.44,382.26 L429.07,382.70 L429.70,383.07 L430.33,383.13 L430.97,382.90 L431.60,382.47 L432.23,382.21 L432.87,382.36 L433.50,382.64 L434.13,382.80 L434.76,383.04 L435.40,382.84 L436.03,382.27 L436.66,381.98 L437.30,381.86 L437.93,381.88 L438.56,382.41 L439.19,383.17 L439.83,383.65 L440.46,383.80 L441.09,383.83 L441.72,384.06 L442.36,384.34 L442.99,384.51 L443.62,384.06 L444.26,383.24 L444.89,383.54 L445.52,384.35 L446.15,384.50 L446.79,384.78 L447.42,385.09 L448.05,384.71 L448.69,384.16 L449.32,383.88 L449.95,384.03 L450.58,384.46 L451.22,384.48 L451.85,384.22 L452.48,384.18 L453.12,384.30 L453.75,384.38 L454.38,384.64 L455.01,385.28 L455.65,385.26 L456.28,384.56 L456.91,384.29 L457.55,384.44 L458.18,384.85 L458.81,385.28 L459.44,385.43 L460.08,385.43 L460.71,385.48 L461.34,385.44 L461.97,385.22 L462.61,384.89 L463.24,384.67 L463.87,384.85 L464.51,385.35 L465.14,385.43 L465.77,385.32 L466.40,385.81 L467.04,386.34 L467.67,386.10 L468.30,385.89 L468.94,386.04 L469.57,386.13 L470.20,385.89 L470.83,385.43 L471.47,385.29 L472.10,385.32 L472.73,385.27 L473.37,385.58 L474.00,386.29 L474.63,386.69 L475.26,386.49 L475.90,386.00 L476.53,385.68 L477.16,385.53 L477.80,385.77 L478.43,386.33 L479.06,386.59 L479.69,386.12 L480.33,385.73 L480.96,386.21 L481.59,386.59 L482.22,386.29 L482.86,385.98 L483.49,386.34 L484.12,386.84 L484.76,386.87 L485.39,386.57 L486.02,386.12 L486.65,385.48 L487.29,385.04 L487.92,385.29 L488.55,385.92 L489.19,386.48 L489.82,386.64 L490.45,386.24 L491.08,385.90 L491.72,386.04 L492.35,386.33 L492.98,386.48 L493.62,386.69 L494.25,386.85 L494.88,386.86 L495.51,386.77 L496.15,386.60 L496.78,386.47 L497.41,386.59 L498.05,386.59 L498.68,386.33 L499.31,386.23 L499.94,386.43 L500.58,386.67 L501.21,386.67 L501.84,386.99 L502.47,387.43 L503.11,387.63 L503.74,387.81 L504.37,387.75 L505.01,387.38 L505.64,387.19 L506.27,387.37 L506.90,387.27 L507.54,386.92 L508.17,386.61 L508.80,386.62 L509.44,386.64 L510.07,386.84 L510.70,387.44 L511.33,387.89 L511.97,388.06 L512.60,387.84 L513.23,387.44 L513.87,387.27 L514.50,387.30 L515.13,387.53 L515.76,387.71 L516.40,387.79 L517.03,388.02 L517.66,388.27 L518.29,388.20 L518.93,387.77 L519.56,387.62 L520.19,387.94 L520.83,388.34 L521.46,388.61 L522.09,388.38 L522.72,388.01 L523.36,387.85 L523.99,387.62 L524.62,387.49 L525.26,387.55 L525.89,387.85 L526.52,387.98 L527.15,387.60 L527.79,387.28 L528.42,387.31 L529.05,387.37 L529.69,387.40 L530.32,387.11 L530.95,386.73 L531.58,386.85 L532.22,386.95 L532.85,386.69 L533.48,386.54 L534.12,386.54 L534.75,386.71 L535.38,386.80 L536.01,385.93 L536.65,385.16 L537.28,385.44 L537.91,385.58 L538.54,384.65 L539.18,383.98 L539.81,384.44 L540.44,385.11 L541.08,385.11 L541.71,384.61 L542.34,383.99 L542.97,383.59 L543.61,383.89 L544.24,384.34 L544.87,383.91 L545.51,382.99 L546.14,382.45 L546.77,382.76 L547.40,382.98 L548.04,382.57 L548.67,382.22 L549.30,381.93 L549.94,381.22 L550.57,380.60 L551.20,380.12 L551.83,379.69 L552.47,379.22 L553.10,378.67 L553.73,378.53 L554.37,378.80 L555.00,378.63 L555.63,378.17 L556.26,378.10 L556.90,378.14 L557.53,378.01 L558.16,378.02 L558.79,378.29 L559.43,378.16 L560.06,376.73 L560.69,375.24 L561.33,374.78 L561.96,374.79 L562.59,374.87 L563.22,374.75 L563.86,374.23 L564.49,373.79 L565.12,373.47 L565.76,373.14 L566.39,372.77 L567.02,372.07 L567.65,371.21 L568.29,370.61 L568.92,370.26 L569.55,370.00 L570.19,370.29 L570.82,370.83 L571.45,370.43 L572.08,369.29 L572.72,368.24 L573.35,367.40 L573.98,366.87 L574.62,366.13 L575.25,365.24 L575.88,364.36 L576.51,363.27 L577.15,362.03 L577.78,361.00 L578.41,360.09 L579.04,358.95 L579.68,357.96 L580.31,357.45 L580.94,357.01 L581.58,356.26 L582.21,355.25 L582.84,353.93 L583.47,351.98 L584.11,350.11 L584.74,349.63 L585.37,349.74 L586.01,349.36 L586.64,348.70 L587.27,348.26 L587.90,348.57 L588.54,349.14 L589.17,349.44 L589.80,350.47 L590.44,351.76 L591.07,353.34 L591.70,355.12 L592.33,356.14 L592.97,356.96 L593.60,359.71 L594.23,363.99 L594.86,367.76 L595.50,371.22 L596.13,375.27 L596.76,379.12 L597.40,382.95 L598.03,387.32 L598.66,391.97 L599.29,396.91 L599.93,401.71 L600.56,405.90 L601.19,409.56 L601.83,412.84 L602.46,415.93 L603.09,418.75 L603.72,421.39 L604.36,423.81 L604.99,426.07 L605.62,428.28 L606.26,430.37 L606.89,432.36 L607.52,434.42 L608.15,436.38 L608.79,438.14 L609.42,439.74 L610.05,441.07 L610.69,442.18 L611.32,443.13 L611.95,443.94 L612.58,444.63 L613.22,445.24 L613.85,445.76 L614.48,446.17 L615.11,446.48 L615.75,446.69 L616.38,446.83 L617.01,446.94 L617.65,447.03 L618.28,447.11 L618.91,447.18 L619.54,447.25 L620.18,447.31 L620.81,447.37 L621.44,447.42 L622.08,447.45 L622.71,447.48 L623.34,447.50 L623.97,447.50 L624.61,447.50 L625.24,447.50 L625.87,447.50 L626.51,447.50 L627.14,447.50 L627.77,447.50 L628.40,447.50 L629.04,447.50 L629.67,447.50 L630.30,447.50 L630.94,447.50 L631.57,447.50 L632.20,447.50 L632.83,447.50 L633.47,447.50 L634.10,447.50 L634.73,447.50 L635.36,447.50 L636.00,447.50 L636.63,447.50 L637.26,447.50 L637.90,447.50" fill="none" stroke="#606060" stroke-width="2.1" stroke-dasharray="2 2.5" stroke-linecap="butt"/>
<path d="M69.00,384.56 L69.63,383.45 L70.27,382.62 L70.90,382.89 L71.53,383.20 L72.16,382.98 L72.80,382.91 L73.43,382.85 L74.06,382.13 L74.70,381.79 L75.33,381.93 L75.96,381.83 L76.59,381.67 L77.23,381.95 L77.86,382.17 L78.49,382.58 L79.12,382.97 L79.76,382.63 L80.39,382.24 L81.02,382.38 L81.66,382.57 L82.29,382.70 L82.92,382.98 L83.55,382.99 L84.19,382.69 L84.82,382.35 L85.45,381.71 L86.09,381.07 L86.72,380.77 L87.35,381.03 L87.98,381.55 L88.62,381.93 L89.25,382.12 L89.88,381.89 L90.52,381.51 L91.15,381.29 L91.78,381.56 L92.41,381.77 L93.05,381.65 L93.68,381.24 L94.31,381.14 L94.95,381.03 L95.58,380.57 L96.21,381.02 L96.84,382.09 L97.48,382.74 L98.11,383.07 L98.74,382.93 L99.37,382.51 L100.01,382.27 L100.64,381.98 L101.27,381.80 L101.91,381.09 L102.54,380.34 L103.17,380.45 L103.80,380.44 L104.44,380.21 L105.07,380.38 L105.70,380.67 L106.34,380.98 L106.97,380.94 L107.60,380.67 L108.23,380.68 L108.87,380.70 L109.50,380.28 L110.13,379.83 L110.77,379.83 L111.40,380.24 L112.03,380.37 L112.66,379.92 L113.30,380.00 L113.93,380.99 L114.56,381.43 L115.20,380.49 L115.83,379.45 L116.46,379.44 L117.09,379.76 L117.73,379.65 L118.36,379.63 L118.99,379.50 L119.62,379.33 L120.26,379.06 L120.89,379.08 L121.52,379.27 L122.16,379.40 L122.79,379.73 L123.42,379.92 L124.05,379.89 L124.69,379.54 L125.32,378.81 L125.95,378.59 L126.59,379.11 L127.22,379.41 L127.85,379.04 L128.48,378.65 L129.12,378.59 L129.75,378.74 L130.38,378.62 L131.02,378.46 L131.65,378.94 L132.28,379.60 L132.91,379.95 L133.55,379.68 L134.18,379.26 L134.81,378.88 L135.45,378.62 L136.08,378.64 L136.71,378.64 L137.34,378.88 L137.98,379.35 L138.61,379.40 L139.24,378.68 L139.87,378.40 L140.51,378.94 L141.14,379.47 L141.77,379.65 L142.41,379.36 L143.04,378.90 L143.67,378.35 L144.30,378.03 L144.94,378.19 L145.57,378.87 L146.20,379.20 L146.84,378.69 L147.47,377.82 L148.10,376.99 L148.73,376.73 L149.37,376.76 L150.00,377.27 L150.63,378.17 L151.27,378.63 L151.90,378.13 L152.53,377.47 L153.16,377.29 L153.80,377.34 L154.43,377.69 L155.06,378.06 L155.69,377.97 L156.33,377.79 L156.96,377.38 L157.59,377.37 L158.23,378.00 L158.86,377.79 L159.49,376.95 L160.12,376.61 L160.76,376.99 L161.39,377.21 L162.02,376.90 L162.66,377.16 L163.29,377.87 L163.92,378.25 L164.55,378.91 L165.19,379.30 L165.82,378.85 L166.45,378.45 L167.09,377.85 L167.72,376.96 L168.35,376.83 L168.98,376.43 L169.62,375.57 L170.25,375.22 L170.88,375.58 L171.52,376.02 L172.15,376.67 L172.78,376.96 L173.41,377.04 L174.05,376.84 L174.68,375.78 L175.31,374.56 L175.94,374.41 L176.58,375.53 L177.21,376.71 L177.84,376.74 L178.48,376.01 L179.11,375.59 L179.74,375.79 L180.37,376.32 L181.01,376.50 L181.64,376.07 L182.27,375.58 L182.91,375.41 L183.54,375.54 L184.17,375.05 L184.80,374.20 L185.44,373.80 L186.07,374.52 L186.70,376.04 L187.34,376.72 L187.97,376.67 L188.60,377.01 L189.23,376.85 L189.87,375.57 L190.50,374.80 L191.13,374.74 L191.77,374.79 L192.40,374.77 L193.03,374.90 L193.66,374.80 L194.30,374.81 L194.93,375.46 L195.56,375.89 L196.19,375.79 L196.83,375.32 L197.46,375.72 L198.09,376.66 L198.73,376.72 L199.36,375.49 L199.99,374.42 L200.62,375.04 L201.26,376.28 L201.89,375.93 L202.52,374.73 L203.16,375.17 L203.79,375.83 L204.42,375.22 L205.05,374.28 L205.69,374.05 L206.32,374.70 L206.95,375.10 L207.59,375.00 L208.22,374.98 L208.85,374.70 L209.48,374.32 L210.12,374.37 L210.75,374.92 L211.38,375.05 L212.02,374.65 L212.65,374.79 L213.28,375.40 L213.91,375.31 L214.55,374.63 L215.18,373.72 L215.81,372.79 L216.44,372.66 L217.08,373.08 L217.71,373.64 L218.34,373.84 L218.98,373.58 L219.61,373.32 L220.24,373.24 L220.87,373.18 L221.51,373.34 L222.14,373.25 L222.77,373.25 L223.41,373.06 L224.04,372.46 L224.67,372.57 L225.30,373.32 L225.94,373.60 L226.57,373.40 L227.20,373.41 L227.84,373.46 L228.47,373.60 L229.10,373.65 L229.73,373.52 L230.37,372.72 L231.00,371.58 L231.63,371.55 L232.26,372.61 L232.90,373.52 L233.53,373.63 L234.16,372.79 L234.80,372.36 L235.43,372.94 L236.06,373.15 L236.69,372.79 L237.33,372.48 L237.96,371.82 L238.59,371.13 L239.23,371.01 L239.86,370.80 L240.49,370.58 L241.12,370.94 L241.76,371.37 L242.39,371.76 L243.02,371.77 L243.66,371.62 L244.29,372.11 L244.92,372.49 L245.55,372.77 L246.19,372.93 L246.82,372.69 L247.45,371.87 L248.09,371.00 L248.72,371.08 L249.35,371.83 L249.98,371.83 L250.62,371.67 L251.25,371.61 L251.88,371.28 L252.51,370.96 L253.15,370.73 L253.78,370.07 L254.41,369.44 L255.05,369.83 L255.68,370.56 L256.31,370.77 L256.94,370.46 L257.58,370.56 L258.21,370.85 L258.84,370.98 L259.48,371.06 L260.11,371.43 L260.74,371.79 L261.37,371.58 L262.01,370.79 L262.64,369.80 L263.27,368.76 L263.91,367.97 L264.54,368.29 L265.17,369.47 L265.80,369.92 L266.44,369.64 L267.07,369.33 L267.70,368.72 L268.34,368.68 L268.97,369.01 L269.60,368.48 L270.23,367.95 L270.87,368.35 L271.50,368.93 L272.13,368.99 L272.76,368.92 L273.40,369.00 L274.03,368.93 L274.66,369.10 L275.30,369.43 L275.93,369.29 L276.56,368.88 L277.19,368.91 L277.83,369.19 L278.46,369.44 L279.09,368.92 L279.73,368.09 L280.36,367.46 L280.99,367.07 L281.62,367.08 L282.26,367.46 L282.89,368.20 L283.52,368.90 L284.16,369.03 L284.79,368.40 L285.42,367.36 L286.05,366.68 L286.69,366.66 L287.32,366.73 L287.95,366.79 L288.59,367.02 L289.22,367.08 L289.85,367.01 L290.48,367.06 L291.12,367.47 L291.75,367.87 L292.38,367.63 L293.01,366.67 L293.65,365.42 L294.28,365.39 L294.91,366.50 L295.55,367.13 L296.18,367.13 L296.81,366.78 L297.44,366.03 L298.08,365.88 L298.71,365.75 L299.34,364.98 L299.98,364.61 L300.61,364.92 L301.24,365.63 L301.87,366.65 L302.51,367.04 L303.14,366.97 L303.77,366.31 L304.41,364.71 L305.04,364.13 L305.67,365.16 L306.30,365.36 L306.94,364.77 L307.57,364.83 L308.20,365.14 L308.83,365.21 L309.47,365.04 L310.10,364.76 L310.73,364.08 L311.37,363.72 L312.00,364.04 L312.63,364.45 L313.26,364.30 L313.90,364.18 L314.53,364.76 L315.16,365.51 L315.80,365.65 L316.43,364.72 L317.06,363.56 L317.69,363.28 L318.33,363.93 L318.96,363.69 L319.59,362.37 L320.23,362.14 L320.86,363.11 L321.49,363.78 L322.12,363.64 L322.76,362.37 L323.39,361.12 L324.02,361.23 L324.66,361.89 L325.29,361.93 L325.92,361.71 L326.55,361.39 L327.19,360.93 L327.82,360.07 L328.45,359.44 L329.08,359.50 L329.72,359.54 L330.35,359.31 L330.98,359.28 L331.62,359.63 L332.25,359.61 L332.88,358.91 L333.51,358.13 L334.15,358.02 L334.78,358.33 L335.41,358.97 L336.05,359.28 L336.68,358.59 L337.31,357.85 L337.94,357.83 L338.58,357.86 L339.21,357.32 L339.84,356.51 L340.48,356.20 L341.11,356.54 L341.74,356.64 L342.37,355.19 L343.01,353.45 L343.64,353.68 L344.27,354.31 L344.91,354.70 L345.54,354.66 L346.17,353.82 L346.80,353.67 L347.44,353.76 L348.07,353.31 L348.70,353.11 L349.33,353.20 L349.97,353.24 L350.60,352.51 L351.23,351.85 L351.87,352.25 L352.50,352.66 L353.13,352.02 L353.76,351.46 L354.40,351.83 L355.03,351.37 L355.66,349.96 L356.30,349.33 L356.93,349.36 L357.56,349.11 L358.19,348.30 L358.83,347.77 L359.46,348.30 L360.09,348.94 L360.73,348.65 L361.36,347.93 L361.99,346.83 L362.62,346.42 L363.26,346.22 L363.89,346.11 L364.52,345.82 L365.15,344.83 L365.79,343.75 L366.42,342.88 L367.05,342.74 L367.69,342.17 L368.32,340.99 L368.95,341.12 L369.58,342.11 L370.22,341.78 L370.85,339.98 L371.48,338.94 L372.12,339.21 L372.75,340.07 L373.38,340.40 L374.01,339.44 L374.65,337.87 L375.28,337.12 L375.91,337.20 L376.55,337.09 L377.18,336.05 L377.81,336.22 L378.44,336.70 L379.08,334.84 L379.71,331.87 L380.34,331.04 L380.98,332.22 L381.61,331.64 L382.24,329.95 L382.87,329.09 L383.51,328.11 L384.14,326.88 L384.77,325.87 L385.40,325.24 L386.04,324.15 L386.67,322.64 L387.30,320.85 L387.94,318.93 L388.57,317.07 L389.20,315.60 L389.83,315.19 L390.47,315.93 L391.10,315.36 L391.73,314.46 L392.37,315.71 L393.00,317.31 L393.63,316.69 L394.26,315.22 L394.90,314.53 L395.53,315.85 L396.16,317.83 L396.80,319.62 L397.43,321.67 L398.06,324.17 L398.69,325.14 L399.33,325.50 L399.96,326.03 L400.59,326.04 L401.23,326.72 L401.86,328.86 L402.49,332.31 L403.12,334.79 L403.76,336.51 L404.39,338.84 L405.02,341.42 L405.65,344.76 L406.29,348.48 L406.92,351.31 L407.55,353.71 L408.19,356.37 L408.82,359.02 L409.45,361.11 L410.08,362.26 L410.72,362.86 L411.35,364.40 L411.98,367.06 L412.62,368.64 L413.25,368.79 L413.88,368.98 L414.51,369.43 L415.15,369.44 L415.78,370.69 L416.41,372.81 L417.05,373.40 L417.68,373.74 L418.31,374.91 L418.94,375.73 L419.58,375.51 L420.21,375.06 L420.84,374.81 L421.48,375.19 L422.11,375.39 L422.74,374.65 L423.37,374.31 L424.01,374.98 L424.64,375.86 L425.27,376.42 L425.90,377.19 L426.54,378.25 L427.17,378.86 L427.80,378.93 L428.44,378.98 L429.07,378.85 L429.70,378.92 L430.33,378.93 L430.97,379.22 L431.60,379.78 L432.23,379.84 L432.87,379.15 L433.50,378.39 L434.13,378.51 L434.76,378.93 L435.40,379.37 L436.03,380.25 L436.66,380.75 L437.30,380.22 L437.93,379.51 L438.56,379.49 L439.19,379.65 L439.83,379.71 L440.46,379.54 L441.09,379.16 L441.72,379.49 L442.36,380.39 L442.99,380.78 L443.62,380.67 L444.26,380.53 L444.89,380.10 L445.52,379.71 L446.15,379.79 L446.79,380.14 L447.42,380.62 L448.05,380.93 L448.69,380.61 L449.32,380.10 L449.95,380.21 L450.58,380.25 L451.22,380.08 L451.85,380.19 L452.48,380.68 L453.12,380.64 L453.75,380.10 L454.38,380.29 L455.01,380.63 L455.65,380.79 L456.28,380.75 L456.91,380.52 L457.55,380.13 L458.18,380.57 L458.81,381.19 L459.44,381.36 L460.08,381.91 L460.71,381.82 L461.34,381.34 L461.97,381.29 L462.61,381.36 L463.24,381.77 L463.87,382.00 L464.51,381.83 L465.14,382.07 L465.77,382.30 L466.40,382.31 L467.04,382.86 L467.67,383.34 L468.30,382.54 L468.94,381.16 L469.57,381.30 L470.20,382.39 L470.83,382.38 L471.47,382.16 L472.10,382.52 L472.73,382.97 L473.37,383.38 L474.00,383.20 L474.63,382.79 L475.26,382.98 L475.90,383.42 L476.53,383.92 L477.16,384.42 L477.80,384.46 L478.43,384.15 L479.06,383.88 L479.69,383.54 L480.33,383.45 L480.96,384.28 L481.59,384.70 L482.22,384.31 L482.86,384.09 L483.49,384.28 L484.12,384.30 L484.76,384.39 L485.39,384.23 L486.02,383.57 L486.65,383.10 L487.29,383.34 L487.92,383.71 L488.55,383.32 L489.19,383.03 L489.82,383.25 L490.45,383.55 L491.08,383.77 L491.72,383.65 L492.35,383.12 L492.98,382.98 L493.62,383.43 L494.25,383.63 L494.88,383.80 L495.51,383.93 L496.15,383.41 L496.78,383.08 L497.41,383.30 L498.05,384.04 L498.68,384.56 L499.31,384.43 L499.94,384.29 L500.58,384.22 L501.21,383.92 L501.84,384.07 L502.47,384.39 L503.11,384.24 L503.74,384.15 L504.37,384.30 L505.01,384.61 L505.64,384.95 L506.27,384.92 L506.90,384.42 L507.54,384.03 L508.17,384.02 L508.80,384.10 L509.44,383.86 L510.07,383.89 L510.70,384.16 L511.33,383.61 L511.97,383.13 L512.60,383.72 L513.23,384.24 L513.87,384.26 L514.50,384.06 L515.13,383.78 L515.76,383.89 L516.40,384.21 L517.03,384.24 L517.66,383.99 L518.29,384.02 L518.93,384.12 L519.56,383.72 L520.19,383.21 L520.83,383.26 L521.46,383.22 L522.09,383.06 L522.72,383.23 L523.36,383.54 L523.99,383.95 L524.62,384.32 L525.26,384.66 L525.89,384.43 L526.52,384.16 L527.15,383.80 L527.79,383.09 L528.42,382.64 L529.05,382.41 L529.69,382.34 L530.32,382.62 L530.95,382.89 L531.58,382.72 L532.22,382.34 L532.85,382.78 L533.48,383.78 L534.12,384.32 L534.75,384.24 L535.38,383.64 L536.01,382.85 L536.65,382.58 L537.28,382.86 L537.91,383.44 L538.54,383.50 L539.18,383.49 L539.81,384.26 L540.44,384.79 L541.08,384.49 L541.71,383.15 L542.34,381.93 L542.97,381.85 L543.61,381.60 L544.24,381.55 L544.87,382.26 L545.51,382.49 L546.14,382.05 L546.77,382.08 L547.40,382.53 L548.04,382.08 L548.67,381.28 L549.30,381.18 L549.94,380.89 L550.57,380.56 L551.20,380.74 L551.83,380.91 L552.47,380.89 L553.10,380.80 L553.73,380.74 L554.37,380.55 L555.00,379.79 L555.63,378.79 L556.26,378.15 L556.90,378.00 L557.53,377.41 L558.16,376.49 L558.79,376.47 L559.43,376.77 L560.06,376.68 L560.69,376.45 L561.33,376.35 L561.96,376.20 L562.59,376.05 L563.22,375.78 L563.86,375.23 L564.49,374.29 L565.12,373.17 L565.76,372.51 L566.39,371.64 L567.02,371.00 L567.65,370.55 L568.29,370.51 L568.92,370.56 L569.55,369.69 L570.19,369.31 L570.82,369.57 L571.45,369.37 L572.08,368.76 L572.72,367.86 L573.35,366.37 L573.98,365.40 L574.62,364.76 L575.25,364.30 L575.88,363.95 L576.51,363.29 L577.15,361.97 L577.78,360.28 L578.41,359.16 L579.04,358.21 L579.68,357.16 L580.31,356.13 L580.94,355.14 L581.58,354.57 L582.21,354.75 L582.84,354.50 L583.47,353.38 L584.11,352.10 L584.74,350.61 L585.37,349.12 L586.01,348.54 L586.64,348.97 L587.27,349.49 L587.90,349.31 L588.54,349.13 L589.17,349.42 L589.80,350.33 L590.44,351.38 L591.07,352.53 L591.70,354.23 L592.33,356.02 L592.97,357.77 L593.60,360.05 L594.23,363.14 L594.86,367.22 L595.50,371.22 L596.13,374.57 L596.76,378.86 L597.40,384.01 L598.03,388.29 L598.66,391.99 L599.29,396.14 L599.93,400.16 L600.56,403.54 L601.19,406.90 L601.83,410.17 L602.46,413.36 L603.09,416.56 L603.72,419.35 L604.36,421.71 L604.99,424.05 L605.62,426.41 L606.26,428.65 L606.89,430.88 L607.52,433.11 L608.15,435.27 L608.79,437.15 L609.42,438.81 L610.05,440.30 L610.69,441.50 L611.32,442.47 L611.95,443.33 L612.58,444.09 L613.22,444.73 L613.85,445.26 L614.48,445.71 L615.11,446.07 L615.75,446.33 L616.38,446.52 L617.01,446.66 L617.65,446.79 L618.28,446.91 L618.91,447.02 L619.54,447.12 L620.18,447.22 L620.81,447.30 L621.44,447.37 L622.08,447.43 L622.71,447.47 L623.34,447.50 L623.97,447.50 L624.61,447.50 L625.24,447.50 L625.87,447.50 L626.51,447.50 L627.14,447.50 L627.77,447.50 L628.40,447.50 L629.04,447.50 L629.67,447.50 L630.30,447.50 L630.94,447.50 L631.57,447.50 L632.20,447.50 L632.83,447.50 L633.47,447.50 L634.10,447.50 L634.73,447.50 L635.36,447.50 L636.00,447.50 L636.63,447.50 L637.26,447.50 L637.90,447.50" fill="none" stroke="#6b6b6b" stroke-width="1.6" stroke-dasharray="10 6.5"/>
<circle cx="206.02" cy="375.00" r="3.6" fill="none" stroke="#d95319" stroke-width="1.0"/>
<circle cx="306.77" cy="365.20" r="3.6" fill="none" stroke="#d95319" stroke-width="1.0"/>
<circle cx="373.93" cy="340.94" r="3.6" fill="none" stroke="#d95319" stroke-width="1.0"/>
<circle cx="382.33" cy="329.42" r="3.6" fill="none" stroke="#d95319" stroke-width="1.0"/>
<circle cx="391.06" cy="315.02" r="3.6" fill="none" stroke="#d95319" stroke-width="1.0"/>
<circle cx="399.12" cy="319.70" r="3.6" fill="none" stroke="#d95319" stroke-width="1.0"/>
<circle cx="407.18" cy="347.42" r="3.6" fill="none" stroke="#d95319" stroke-width="1.0"/>
<circle cx="440.43" cy="375.50" r="3.6" fill="none" stroke="#d95319" stroke-width="1.0"/>
<circle cx="508.60" cy="387.02" r="3.6" fill="none" stroke="#d95319" stroke-width="1.0"/>
<circle cx="542.18" cy="390.26" r="3.6" fill="none" stroke="#d95319" stroke-width="1.0"/>
<circle cx="558.64" cy="390.26" r="3.6" fill="none" stroke="#d95319" stroke-width="1.0"/>
<circle cx="567.37" cy="388.46" r="3.6" fill="none" stroke="#d95319" stroke-width="1.0"/>
<circle cx="575.77" cy="382.27" r="3.6" fill="none" stroke="#d95319" stroke-width="1.0"/>
<circle cx="583.16" cy="374.06" r="3.6" fill="none" stroke="#d95319" stroke-width="1.0"/>
<circle cx="585.51" cy="374.78" r="3.6" fill="none" stroke="#d95319" stroke-width="1.0"/>
<circle cx="588.19" cy="379.82" r="3.6" fill="none" stroke="#d95319" stroke-width="1.0"/>
<circle cx="591.89" cy="389.18" r="3.6" fill="none" stroke="#d95319" stroke-width="1.0"/>
<circle cx="600.62" cy="423.02" r="3.6" fill="none" stroke="#d95319" stroke-width="1.0"/>
<circle cx="609.01" cy="443.18" r="3.6" fill="none" stroke="#d95319" stroke-width="1.0"/>
<path d="M69.00,619.78 L69.63,619.64 L70.27,619.61 L70.90,619.57 L71.53,619.42 L72.16,619.40 L72.80,619.45 L73.43,619.45 L74.06,619.49 L74.70,619.50 L75.33,619.39 L75.96,619.35 L76.59,619.46 L77.23,619.44 L77.86,619.32 L78.49,619.32 L79.12,619.30 L79.76,619.29 L80.39,619.31 L81.02,619.25 L81.66,619.12 L82.29,618.99 L82.92,618.89 L83.55,618.82 L84.19,618.79 L84.82,618.82 L85.45,618.83 L86.09,618.74 L86.72,618.66 L87.35,618.65 L87.98,618.71 L88.62,618.75 L89.25,618.80 L89.88,618.81 L90.52,618.73 L91.15,618.71 L91.78,618.68 L92.41,618.51 L93.05,618.35 L93.68,618.36 L94.31,618.44 L94.95,618.54 L95.58,618.40 L96.21,618.18 L96.84,618.17 L97.48,618.28 L98.11,618.42 L98.74,618.43 L99.37,618.21 L100.01,617.97 L100.64,617.83 L101.27,617.82 L101.91,617.94 L102.54,618.12 L103.17,618.24 L103.80,618.13 L104.44,617.89 L105.07,617.64 L105.70,617.50 L106.34,617.52 L106.97,617.66 L107.60,617.77 L108.23,617.79 L108.87,617.74 L109.50,617.64 L110.13,617.59 L110.77,617.73 L111.40,617.85 L112.03,617.63 L112.66,617.27 L113.30,617.25 L113.93,617.44 L114.56,617.47 L115.20,617.37 L115.83,617.36 L116.46,617.48 L117.09,617.65 L117.73,617.60 L118.36,617.36 L118.99,617.17 L119.62,617.05 L120.26,617.00 L120.89,617.05 L121.52,617.08 L122.16,617.04 L122.79,616.99 L123.42,616.94 L124.05,616.89 L124.69,616.93 L125.32,616.86 L125.95,616.74 L126.59,616.77 L127.22,616.96 L127.85,617.02 L128.48,616.88 L129.12,616.73 L129.75,616.81 L130.38,616.98 L131.02,616.88 L131.65,616.68 L132.28,616.58 L132.91,616.56 L133.55,616.60 L134.18,616.67 L134.81,616.72 L135.45,616.70 L136.08,616.74 L136.71,616.68 L137.34,616.56 L137.98,616.48 L138.61,616.40 L139.24,616.26 L139.87,616.16 L140.51,616.08 L141.14,616.00 L141.77,616.00 L142.41,616.05 L143.04,616.02 L143.67,615.97 L144.30,616.00 L144.94,616.17 L145.57,616.33 L146.20,616.22 L146.84,616.09 L147.47,616.07 L148.10,616.04 L148.73,615.98 L149.37,615.89 L150.00,615.73 L150.63,615.62 L151.27,615.65 L151.90,615.74 L152.53,615.88 L153.16,615.92 L153.80,615.86 L154.43,615.78 L155.06,615.65 L155.69,615.48 L156.33,615.38 L156.96,615.40 L157.59,615.43 L158.23,615.50 L158.86,615.45 L159.49,615.35 L160.12,615.45 L160.76,615.58 L161.39,615.47 L162.02,615.39 L162.66,615.44 L163.29,615.39 L163.92,615.24 L164.55,615.09 L165.19,615.08 L165.82,615.21 L166.45,615.13 L167.09,614.85 L167.72,614.67 L168.35,614.68 L168.98,614.79 L169.62,614.95 L170.25,615.09 L170.88,615.06 L171.52,615.07 L172.15,615.10 L172.78,614.93 L173.41,614.65 L174.05,614.54 L174.68,614.64 L175.31,614.65 L175.94,614.58 L176.58,614.58 L177.21,614.52 L177.84,614.39 L178.48,614.40 L179.11,614.62 L179.74,614.78 L180.37,614.61 L181.01,614.42 L181.64,614.44 L182.27,614.49 L182.91,614.43 L183.54,614.29 L184.17,614.20 L184.80,614.15 L185.44,614.07 L186.07,613.99 L186.70,614.02 L187.34,614.15 L187.97,614.22 L188.60,614.14 L189.23,613.94 L189.87,613.78 L190.50,613.80 L191.13,613.83 L191.77,613.77 L192.40,613.76 L193.03,613.80 L193.66,613.83 L194.30,613.82 L194.93,613.63 L195.56,613.39 L196.19,613.35 L196.83,613.39 L197.46,613.41 L198.09,613.50 L198.73,613.65 L199.36,613.67 L199.99,613.55 L200.62,613.35 L201.26,613.14 L201.89,613.10 L202.52,613.28 L203.16,613.40 L203.79,613.32 L204.42,613.23 L205.05,613.17 L205.69,613.13 L206.32,613.12 L206.95,613.11 L207.59,613.01 L208.22,612.90 L208.85,612.89 L209.48,612.92 L210.12,612.92 L210.75,612.87 L211.38,612.89 L212.02,612.94 L212.65,612.92 L213.28,612.87 L213.91,612.81 L214.55,612.66 L215.18,612.45 L215.81,612.39 L216.44,612.43 L217.08,612.46 L217.71,612.46 L218.34,612.43 L218.98,612.46 L219.61,612.48 L220.24,612.39 L220.87,612.18 L221.51,612.03 L222.14,612.02 L222.77,612.20 L223.41,612.38 L224.04,612.25 L224.67,612.05 L225.30,612.09 L225.94,612.18 L226.57,612.07 L227.20,611.99 L227.84,612.08 L228.47,612.19 L229.10,612.27 L229.73,612.27 L230.37,612.09 L231.00,611.95 L231.63,611.87 L232.26,611.76 L232.90,611.61 L233.53,611.54 L234.16,611.65 L234.80,611.80 L235.43,611.89 L236.06,611.86 L236.69,611.71 L237.33,611.49 L237.96,611.39 L238.59,611.36 L239.23,611.32 L239.86,611.36 L240.49,611.38 L241.12,611.38 L241.76,611.34 L242.39,611.25 L243.02,611.19 L243.66,611.18 L244.29,611.21 L244.92,611.09 L245.55,610.83 L246.19,610.75 L246.82,610.80 L247.45,610.82 L248.09,610.82 L248.72,610.79 L249.35,610.75 L249.98,610.60 L250.62,610.48 L251.25,610.41 L251.88,610.34 L252.51,610.23 L253.15,610.13 L253.78,610.24 L254.41,610.42 L255.05,610.33 L255.68,610.11 L256.31,610.07 L256.94,610.07 L257.58,609.95 L258.21,609.75 L258.84,609.65 L259.48,609.72 L260.11,609.81 L260.74,609.75 L261.37,609.68 L262.01,609.80 L262.64,609.79 L263.27,609.52 L263.91,609.44 L264.54,609.53 L265.17,609.44 L265.80,609.28 L266.44,609.13 L267.07,608.99 L267.70,609.02 L268.34,609.16 L268.97,609.11 L269.60,608.93 L270.23,608.86 L270.87,608.87 L271.50,608.85 L272.13,608.86 L272.76,608.88 L273.40,608.86 L274.03,608.59 L274.66,608.29 L275.30,608.35 L275.93,608.69 L276.56,608.82 L277.19,608.51 L277.83,608.22 L278.46,608.18 L279.09,608.26 L279.73,608.35 L280.36,608.36 L280.99,608.33 L281.62,608.22 L282.26,607.95 L282.89,607.68 L283.52,607.65 L284.16,607.74 L284.79,607.74 L285.42,607.70 L286.05,607.61 L286.69,607.52 L287.32,607.47 L287.95,607.33 L288.59,607.17 L289.22,607.06 L289.85,607.05 L290.48,607.01 L291.12,606.95 L291.75,606.92 L292.38,606.95 L293.01,606.91 L293.65,606.85 L294.28,606.78 L294.91,606.60 L295.55,606.46 L296.18,606.43 L296.81,606.40 L297.44,606.29 L298.08,606.07 L298.71,605.80 L299.34,605.59 L299.98,605.44 L300.61,605.32 L301.24,605.27 L301.87,605.34 L302.51,605.37 L303.14,605.35 L303.77,605.27 L304.41,605.12 L305.04,605.00 L305.67,604.92 L306.30,604.84 L306.94,604.84 L307.57,604.88 L308.20,604.79 L308.83,604.72 L309.47,604.70 L310.10,604.57 L310.73,604.37 L311.37,604.25 L312.00,604.21 L312.63,604.10 L313.26,603.96 L313.90,603.82 L314.53,603.74 L315.16,603.79 L315.80,603.90 L316.43,603.85 L317.06,603.68 L317.69,603.59 L318.33,603.47 L318.96,603.31 L319.59,603.20 L320.23,603.29 L320.86,603.44 L321.49,603.44 L322.12,603.22 L322.76,603.08 L323.39,603.05 L324.02,602.88 L324.66,602.64 L325.29,602.53 L325.92,602.51 L326.55,602.50 L327.19,602.39 L327.82,602.28 L328.45,602.20 L329.08,602.09 L329.72,601.98 L330.35,601.90 L330.98,601.98 L331.62,602.01 L332.25,601.92 L332.88,601.83 L333.51,601.72 L334.15,601.55 L334.78,601.40 L335.41,601.31 L336.05,601.16 L336.68,601.08 L337.31,601.08 L337.94,601.02 L338.58,601.01 L339.21,601.18 L339.84,601.10 L340.48,600.83 L341.11,600.62 L341.74,600.46 L342.37,600.31 L343.01,600.18 L343.64,600.15 L344.27,600.13 L344.91,599.96 L345.54,599.82 L346.17,599.87 L346.80,599.92 L347.44,599.88 L348.07,599.73 L348.70,599.58 L349.33,599.47 L349.97,599.43 L350.60,599.35 L351.23,599.23 L351.87,598.98 L352.50,598.62 L353.13,598.35 L353.76,598.29 L354.40,598.19 L355.03,598.01 L355.66,598.03 L356.30,598.11 L356.93,597.98 L357.56,597.77 L358.19,597.62 L358.83,597.65 L359.46,597.70 L360.09,597.43 L360.73,597.02 L361.36,596.94 L361.99,597.05 L362.62,597.03 L363.26,596.99 L363.89,597.09 L364.52,597.02 L365.15,596.67 L365.79,596.44 L366.42,596.32 L367.05,596.16 L367.69,595.94 L368.32,595.64 L368.95,595.36 L369.58,595.25 L370.22,595.13 L370.85,594.95 L371.48,594.80 L372.12,594.83 L372.75,594.75 L373.38,594.30 L374.01,594.01 L374.65,594.10 L375.28,594.14 L375.91,593.91 L376.55,593.80 L377.18,593.81 L377.81,593.63 L378.44,593.38 L379.08,593.31 L379.71,593.25 L380.34,593.09 L380.98,592.88 L381.61,592.71 L382.24,592.46 L382.87,592.15 L383.51,591.89 L384.14,591.81 L384.77,591.64 L385.40,591.36 L386.04,591.26 L386.67,591.23 L387.30,590.93 L387.94,590.53 L388.57,590.21 L389.20,589.86 L389.83,589.39 L390.47,589.08 L391.10,588.98 L391.73,588.73 L392.37,588.18 L393.00,587.55 L393.63,587.14 L394.26,586.95 L394.90,586.72 L395.53,586.34 L396.16,585.64 L396.80,584.75 L397.43,584.10 L398.06,583.84 L398.69,583.63 L399.33,583.13 L399.96,582.46 L400.59,582.04 L401.23,581.86 L401.86,581.67 L402.49,581.27 L403.12,580.65 L403.76,580.10 L404.39,579.88 L405.02,579.69 L405.65,579.38 L406.29,579.09 L406.92,578.89 L407.55,578.83 L408.19,578.71 L408.82,578.49 L409.45,578.25 L410.08,578.19 L410.72,578.23 L411.35,578.12 L411.98,577.81 L412.62,577.53 L413.25,577.50 L413.88,577.68 L414.51,577.95 L415.15,578.11 L415.78,578.05 L416.41,577.79 L417.05,577.52 L417.68,577.38 L418.31,577.41 L418.94,577.59 L419.58,577.67 L420.21,577.73 L420.84,577.93 L421.48,578.04 L422.11,577.83 L422.74,577.64 L423.37,577.63 L424.01,577.45 L424.64,577.34 L425.27,577.43 L425.90,577.50 L426.54,577.51 L427.17,577.39 L427.80,577.18 L428.44,577.11 L429.07,577.22 L429.70,577.40 L430.33,577.54 L430.97,577.67 L431.60,577.84 L432.23,577.85 L432.87,577.82 L433.50,577.83 L434.13,577.69 L434.76,577.55 L435.40,577.51 L436.03,577.47 L436.66,577.31 L437.30,577.23 L437.93,577.48 L438.56,577.62 L439.19,577.45 L439.83,577.03 L440.46,576.62 L441.09,576.51 L441.72,576.64 L442.36,576.70 L442.99,576.69 L443.62,576.58 L444.26,576.52 L444.89,576.60 L445.52,576.54 L446.15,576.37 L446.79,576.17 L447.42,576.17 L448.05,576.36 L448.69,576.50 L449.32,576.70 L449.95,576.85 L450.58,576.76 L451.22,576.68 L451.85,576.70 L452.48,576.58 L453.12,576.35 L453.75,576.28 L454.38,576.26 L455.01,576.30 L455.65,576.37 L456.28,576.41 L456.91,576.71 L457.55,577.12 L458.18,577.40 L458.81,577.46 L459.44,577.44 L460.08,577.48 L460.71,577.57 L461.34,577.78 L461.97,578.05 L462.61,578.14 L463.24,578.12 L463.87,578.18 L464.51,578.22 L465.14,578.14 L465.77,578.01 L466.40,577.90 L467.04,577.95 L467.67,578.09 L468.30,578.16 L468.94,577.93 L469.57,577.65 L470.20,577.57 L470.83,577.56 L471.47,577.59 L472.10,577.60 L472.73,577.50 L473.37,577.44 L474.00,577.51 L474.63,577.68 L475.26,577.91 L475.90,578.02 L476.53,577.86 L477.16,577.74 L477.80,577.60 L478.43,577.38 L479.06,577.33 L479.69,577.43 L480.33,577.51 L480.96,577.49 L481.59,577.48 L482.22,577.49 L482.86,577.44 L483.49,577.46 L484.12,577.64 L484.76,577.67 L485.39,577.56 L486.02,577.52 L486.65,577.64 L487.29,577.77 L487.92,577.69 L488.55,577.53 L489.19,577.63 L489.82,577.87 L490.45,577.98 L491.08,577.93 L491.72,577.89 L492.35,577.90 L492.98,577.80 L493.62,577.78 L494.25,577.86 L494.88,577.92 L495.51,578.16 L496.15,578.33 L496.78,578.38 L497.41,578.51 L498.05,578.67 L498.68,578.80 L499.31,578.82 L499.94,578.83 L500.58,578.84 L501.21,578.68 L501.84,578.61 L502.47,578.68 L503.11,578.70 L503.74,578.80 L504.37,578.95 L505.01,578.96 L505.64,579.02 L506.27,579.14 L506.90,579.28 L507.54,579.58 L508.17,579.70 L508.80,579.39 L509.44,579.06 L510.07,578.97 L510.70,579.11 L511.33,579.30 L511.97,579.55 L512.60,579.68 L513.23,579.58 L513.87,579.44 L514.50,579.32 L515.13,579.21 L515.76,579.34 L516.40,579.60 L517.03,579.52 L517.66,579.23 L518.29,579.31 L518.93,579.64 L519.56,579.64 L520.19,579.47 L520.83,579.54 L521.46,579.71 L522.09,579.94 L522.72,579.99 L523.36,579.87 L523.99,579.64 L524.62,579.44 L525.26,579.41 L525.89,579.37 L526.52,579.31 L527.15,579.41 L527.79,579.81 L528.42,580.24 L529.05,580.22 L529.69,579.87 L530.32,579.67 L530.95,579.74 L531.58,580.00 L532.22,580.31 L532.85,580.53 L533.48,580.50 L534.12,580.40 L534.75,580.44 L535.38,580.39 L536.01,580.16 L536.65,580.12 L537.28,580.22 L537.91,580.32 L538.54,580.45 L539.18,580.52 L539.81,580.50 L540.44,580.62 L541.08,580.64 L541.71,580.51 L542.34,580.54 L542.97,580.77 L543.61,580.92 L544.24,580.91 L544.87,581.12 L545.51,581.39 L546.14,581.49 L546.77,581.58 L547.40,581.56 L548.04,581.38 L548.67,581.35 L549.30,581.59 L549.94,581.79 L550.57,581.92 L551.20,582.09 L551.83,582.20 L552.47,582.27 L553.10,582.49 L553.73,582.51 L554.37,582.40 L555.00,582.64 L555.63,582.89 L556.26,582.78 L556.90,582.68 L557.53,582.99 L558.16,583.31 L558.79,583.36 L559.43,583.41 L560.06,583.56 L560.69,583.71 L561.33,583.80 L561.96,583.61 L562.59,583.45 L563.22,583.45 L563.86,583.37 L564.49,583.14 L565.12,583.01 L565.76,583.05 L566.39,583.13 L567.02,582.98 L567.65,582.80 L568.29,582.95 L568.92,583.29 L569.55,583.53 L570.19,583.74 L570.82,584.02 L571.45,584.34 L572.08,584.84 L572.72,585.78 L573.35,587.03 L573.98,588.33 L574.62,589.77 L575.25,591.25 L575.88,592.56 L576.51,593.64 L577.15,594.85 L577.78,596.61 L578.41,598.79 L579.04,601.45 L579.68,604.65 L580.31,608.09 L580.94,611.80 L581.58,615.88 L582.21,620.33 L582.84,624.92 L583.47,629.33 L584.11,633.59 L584.74,637.90 L585.37,642.19 L586.01,646.24 L586.64,650.07 L587.27,653.75 L587.90,657.25 L588.54,660.55 L589.17,663.64 L589.80,666.57 L590.44,669.41 L591.07,672.09 L591.70,674.58 L592.33,676.85 L592.97,678.86 L593.60,680.66 L594.23,682.30 L594.86,683.79 L595.50,685.16 L596.13,686.41 L596.76,687.52 L597.40,688.48 L598.03,689.29 L598.66,689.96 L599.29,690.54 L599.93,691.05 L600.56,691.52 L601.19,691.94 L601.83,692.32 L602.46,692.66 L603.09,692.94 L603.72,693.17 L604.36,693.36 L604.99,693.52 L605.62,693.66 L606.26,693.80 L606.89,693.92 L607.52,694.04 L608.15,694.13 L608.79,694.21 L609.42,694.27 L610.05,694.32 L610.69,694.37 L611.32,694.41 L611.95,694.45 L612.58,694.50 L613.22,694.54 L613.85,694.58 L614.48,694.62 L615.11,694.66 L615.75,694.70 L616.38,694.74 L617.01,694.77 L617.65,694.81 L618.28,694.84 L618.91,694.87 L619.54,694.90 L620.18,694.92 L620.81,694.94 L621.44,694.96 L622.08,694.98 L622.71,694.99 L623.34,695.00 L623.97,695.00 L624.61,695.00 L625.24,695.00 L625.87,695.00 L626.51,695.00 L627.14,695.00 L627.77,695.00 L628.40,695.00 L629.04,695.00 L629.67,695.00 L630.30,695.00 L630.94,695.00 L631.57,695.00 L632.20,695.00 L632.83,695.00 L633.47,695.00 L634.10,695.00 L634.73,695.00 L635.36,695.00 L636.00,695.00 L636.63,695.00 L637.26,695.00 L637.90,695.00" fill="none" stroke="#1f6cc6" stroke-width="1.8" stroke-linejoin="round"/>
<path d="M69.00,617.96 L69.63,617.96 L70.27,617.89 L70.90,617.95 L71.53,617.98 L72.16,617.81 L72.80,617.64 L73.43,617.60 L74.06,617.68 L74.70,617.76 L75.33,617.73 L75.96,617.62 L76.59,617.51 L77.23,617.44 L77.86,617.45 L78.49,617.56 L79.12,617.69 L79.76,617.60 L80.39,617.45 L81.02,617.45 L81.66,617.47 L82.29,617.48 L82.92,617.47 L83.55,617.51 L84.19,617.49 L84.82,617.35 L85.45,617.28 L86.09,617.38 L86.72,617.44 L87.35,617.36 L87.98,617.24 L88.62,617.12 L89.25,617.16 L89.88,617.21 L90.52,617.08 L91.15,616.91 L91.78,616.95 L92.41,617.03 L93.05,617.04 L93.68,616.99 L94.31,616.92 L94.95,616.88 L95.58,616.75 L96.21,616.62 L96.84,616.61 L97.48,616.68 L98.11,616.71 L98.74,616.65 L99.37,616.57 L100.01,616.53 L100.64,616.52 L101.27,616.54 L101.91,616.56 L102.54,616.50 L103.17,616.36 L103.80,616.27 L104.44,616.21 L105.07,616.21 L105.70,616.33 L106.34,616.38 L106.97,616.31 L107.60,616.28 L108.23,616.32 L108.87,616.28 L109.50,616.21 L110.13,616.17 L110.77,616.02 L111.40,615.89 L112.03,615.96 L112.66,616.08 L113.30,616.11 L113.93,616.06 L114.56,615.93 L115.20,615.80 L115.83,615.85 L116.46,616.01 L117.09,615.97 L117.73,615.86 L118.36,615.90 L118.99,615.94 L119.62,615.78 L120.26,615.63 L120.89,615.60 L121.52,615.57 L122.16,615.58 L122.79,615.63 L123.42,615.55 L124.05,615.31 L124.69,615.17 L125.32,615.24 L125.95,615.23 L126.59,615.13 L127.22,615.11 L127.85,615.13 L128.48,615.21 L129.12,615.32 L129.75,615.27 L130.38,615.15 L131.02,615.03 L131.65,615.01 L132.28,615.06 L132.91,615.11 L133.55,615.13 L134.18,615.10 L134.81,615.13 L135.45,615.08 L136.08,614.95 L136.71,614.86 L137.34,614.87 L137.98,614.87 L138.61,614.73 L139.24,614.66 L139.87,614.69 L140.51,614.69 L141.14,614.73 L141.77,614.75 L142.41,614.73 L143.04,614.64 L143.67,614.47 L144.30,614.41 L144.94,614.50 L145.57,614.57 L146.20,614.53 L146.84,614.47 L147.47,614.44 L148.10,614.48 L148.73,614.50 L149.37,614.55 L150.00,614.51 L150.63,614.32 L151.27,614.14 L151.90,614.12 L152.53,614.20 L153.16,614.21 L153.80,614.19 L154.43,614.25 L155.06,614.22 L155.69,614.07 L156.33,613.97 L156.96,613.93 L157.59,613.95 L158.23,613.99 L158.86,613.85 L159.49,613.74 L160.12,613.85 L160.76,613.89 L161.39,613.74 L162.02,613.62 L162.66,613.58 L163.29,613.63 L163.92,613.72 L164.55,613.75 L165.19,613.65 L165.82,613.51 L166.45,613.58 L167.09,613.66 L167.72,613.59 L168.35,613.45 L168.98,613.36 L169.62,613.39 L170.25,613.33 L170.88,613.20 L171.52,613.14 L172.15,613.20 L172.78,613.21 L173.41,613.21 L174.05,613.31 L174.68,613.31 L175.31,613.29 L175.94,613.29 L176.58,613.21 L177.21,613.06 L177.84,612.94 L178.48,612.96 L179.11,613.07 L179.74,613.09 L180.37,613.05 L181.01,613.11 L181.64,613.14 L182.27,613.15 L182.91,613.10 L183.54,613.02 L184.17,612.98 L184.80,612.84 L185.44,612.63 L186.07,612.62 L186.70,612.80 L187.34,612.89 L187.97,612.86 L188.60,612.73 L189.23,612.51 L189.87,612.41 L190.50,612.48 L191.13,612.52 L191.77,612.45 L192.40,612.40 L193.03,612.36 L193.66,612.27 L194.30,612.22 L194.93,612.30 L195.56,612.37 L196.19,612.32 L196.83,612.19 L197.46,612.24 L198.09,612.36 L198.73,612.25 L199.36,612.19 L199.99,612.28 L200.62,612.24 L201.26,612.08 L201.89,612.09 L202.52,612.12 L203.16,612.03 L203.79,611.97 L204.42,612.01 L205.05,611.99 L205.69,611.87 L206.32,611.70 L206.95,611.53 L207.59,611.50 L208.22,611.61 L208.85,611.76 L209.48,611.87 L210.12,611.88 L210.75,611.76 L211.38,611.66 L212.02,611.56 L212.65,611.42 L213.28,611.41 L213.91,611.50 L214.55,611.43 L215.18,611.37 L215.81,611.38 L216.44,611.29 L217.08,611.09 L217.71,610.97 L218.34,611.00 L218.98,611.18 L219.61,611.26 L220.24,611.14 L220.87,610.93 L221.51,610.77 L222.14,610.80 L222.77,610.98 L223.41,611.02 L224.04,610.85 L224.67,610.71 L225.30,610.66 L225.94,610.69 L226.57,610.83 L227.20,610.80 L227.84,610.60 L228.47,610.55 L229.10,610.55 L229.73,610.41 L230.37,610.28 L231.00,610.28 L231.63,610.26 L232.26,610.24 L232.90,610.19 L233.53,610.19 L234.16,610.20 L234.80,610.21 L235.43,610.20 L236.06,610.21 L236.69,610.22 L237.33,610.15 L237.96,610.08 L238.59,610.10 L239.23,610.07 L239.86,609.94 L240.49,609.85 L241.12,609.94 L241.76,610.05 L242.39,610.00 L243.02,609.82 L243.66,609.70 L244.29,609.70 L244.92,609.67 L245.55,609.69 L246.19,609.72 L246.82,609.63 L247.45,609.50 L248.09,609.41 L248.72,609.26 L249.35,609.24 L249.98,609.45 L250.62,609.61 L251.25,609.56 L251.88,609.41 L252.51,609.37 L253.15,609.33 L253.78,609.19 L254.41,608.99 L255.05,608.93 L255.68,609.03 L256.31,609.16 L256.94,609.12 L257.58,608.98 L258.21,608.85 L258.84,608.69 L259.48,608.55 L260.11,608.52 L260.74,608.55 L261.37,608.62 L262.01,608.66 L262.64,608.64 L263.27,608.65 L263.91,608.66 L264.54,608.57 L265.17,608.44 L265.80,608.39 L266.44,608.41 L267.07,608.44 L267.70,608.32 L268.34,608.11 L268.97,607.96 L269.60,607.96 L270.23,608.01 L270.87,607.99 L271.50,607.92 L272.13,607.84 L272.76,607.75 L273.40,607.70 L274.03,607.67 L274.66,607.73 L275.30,607.79 L275.93,607.67 L276.56,607.47 L277.19,607.37 L277.83,607.22 L278.46,607.08 L279.09,607.15 L279.73,607.22 L280.36,607.20 L280.99,607.07 L281.62,606.88 L282.26,606.72 L282.89,606.63 L283.52,606.71 L284.16,606.78 L284.79,606.72 L285.42,606.59 L286.05,606.49 L286.69,606.40 L287.32,606.30 L287.95,606.19 L288.59,606.11 L289.22,606.03 L289.85,605.97 L290.48,605.91 L291.12,605.79 L291.75,605.68 L292.38,605.64 L293.01,605.59 L293.65,605.38 L294.28,605.24 L294.91,605.19 L295.55,605.18 L296.18,605.16 L296.81,605.02 L297.44,604.91 L298.08,604.84 L298.71,604.76 L299.34,604.73 L299.98,604.66 L300.61,604.47 L301.24,604.32 L301.87,604.28 L302.51,604.19 L303.14,604.10 L303.77,604.09 L304.41,604.07 L305.04,604.00 L305.67,603.92 L306.30,603.85 L306.94,603.79 L307.57,603.67 L308.20,603.59 L308.83,603.60 L309.47,603.62 L310.10,603.53 L310.73,603.28 L311.37,603.11 L312.00,603.16 L312.63,603.21 L313.26,603.09 L313.90,602.90 L314.53,602.75 L315.16,602.70 L315.80,602.71 L316.43,602.65 L317.06,602.50 L317.69,602.40 L318.33,602.32 L318.96,602.23 L319.59,602.13 L320.23,601.99 L320.86,601.82 L321.49,601.62 L322.12,601.54 L322.76,601.58 L323.39,601.60 L324.02,601.52 L324.66,601.42 L325.29,601.37 L325.92,601.41 L326.55,601.46 L327.19,601.38 L327.82,601.17 L328.45,601.00 L329.08,600.97 L329.72,600.95 L330.35,600.84 L330.98,600.72 L331.62,600.69 L332.25,600.63 L332.88,600.49 L333.51,600.42 L334.15,600.43 L334.78,600.35 L335.41,600.22 L336.05,600.08 L336.68,599.92 L337.31,599.80 L337.94,599.68 L338.58,599.47 L339.21,599.36 L339.84,599.32 L340.48,599.42 L341.11,599.59 L341.74,599.52 L342.37,599.26 L343.01,599.07 L343.64,599.08 L344.27,599.14 L344.91,598.99 L345.54,598.70 L346.17,598.51 L346.80,598.53 L347.44,598.62 L348.07,598.55 L348.70,598.39 L349.33,598.18 L349.97,597.91 L350.60,597.73 L351.23,597.73 L351.87,597.88 L352.50,597.94 L353.13,597.81 L353.76,597.58 L354.40,597.42 L355.03,597.32 L355.66,597.12 L356.30,596.93 L356.93,596.81 L357.56,596.74 L358.19,596.70 L358.83,596.52 L359.46,596.25 L360.09,596.09 L360.73,596.02 L361.36,596.06 L361.99,596.03 L362.62,595.83 L363.26,595.68 L363.89,595.50 L364.52,595.30 L365.15,595.20 L365.79,594.95 L366.42,594.58 L367.05,594.42 L367.69,594.46 L368.32,594.40 L368.95,594.21 L369.58,593.99 L370.22,593.83 L370.85,593.71 L371.48,593.60 L372.12,593.34 L372.75,593.08 L373.38,593.00 L374.01,593.01 L374.65,593.00 L375.28,592.83 L375.91,592.49 L376.55,592.25 L377.18,592.23 L377.81,592.24 L378.44,592.07 L379.08,591.67 L379.71,591.23 L380.34,590.99 L380.98,591.03 L381.61,591.18 L382.24,591.08 L382.87,590.67 L383.51,590.23 L384.14,589.96 L384.77,589.82 L385.40,589.61 L386.04,589.39 L386.67,589.19 L387.30,589.03 L387.94,588.82 L388.57,588.54 L389.20,588.24 L389.83,587.93 L390.47,587.54 L391.10,587.12 L391.73,586.75 L392.37,586.32 L393.00,585.83 L393.63,585.28 L394.26,584.75 L394.90,584.33 L395.53,583.98 L396.16,583.78 L396.80,583.43 L397.43,583.05 L398.06,582.78 L398.69,582.34 L399.33,581.89 L399.96,581.46 L400.59,580.88 L401.23,580.44 L401.86,580.25 L402.49,580.00 L403.12,579.64 L403.76,579.37 L404.39,579.22 L405.02,578.91 L405.65,578.54 L406.29,578.43 L406.92,578.50 L407.55,578.61 L408.19,578.58 L408.82,578.25 L409.45,577.92 L410.08,577.75 L410.72,577.58 L411.35,577.40 L411.98,577.31 L412.62,577.28 L413.25,577.27 L413.88,577.23 L414.51,577.16 L415.15,577.05 L415.78,576.90 L416.41,576.84 L417.05,576.76 L417.68,576.65 L418.31,576.80 L418.94,577.08 L419.58,577.15 L420.21,577.07 L420.84,576.93 L421.48,576.75 L422.11,576.68 L422.74,576.67 L423.37,576.71 L424.01,576.94 L424.64,577.27 L425.27,577.39 L425.90,577.24 L426.54,577.01 L427.17,576.81 L427.80,576.65 L428.44,576.63 L429.07,576.79 L429.70,577.00 L430.33,577.03 L430.97,577.04 L431.60,577.14 L432.23,577.02 L432.87,576.73 L433.50,576.76 L434.13,577.07 L434.76,577.24 L435.40,577.34 L436.03,577.36 L436.66,577.15 L437.30,576.85 L437.93,576.68 L438.56,576.60 L439.19,576.60 L439.83,576.67 L440.46,576.57 L441.09,576.36 L441.72,576.38 L442.36,576.57 L442.99,576.61 L443.62,576.44 L444.26,576.27 L444.89,576.21 L445.52,576.21 L446.15,576.22 L446.79,576.25 L447.42,576.26 L448.05,576.32 L448.69,576.34 L449.32,576.29 L449.95,576.31 L450.58,576.27 L451.22,576.13 L451.85,575.98 L452.48,575.87 L453.12,576.00 L453.75,576.33 L454.38,576.60 L455.01,576.76 L455.65,576.74 L456.28,576.59 L456.91,576.62 L457.55,576.72 L458.18,576.68 L458.81,576.76 L459.44,576.99 L460.08,577.33 L460.71,577.53 L461.34,577.49 L461.97,577.53 L462.61,577.57 L463.24,577.43 L463.87,577.41 L464.51,577.51 L465.14,577.48 L465.77,577.42 L466.40,577.44 L467.04,577.41 L467.67,577.31 L468.30,577.30 L468.94,577.31 L469.57,577.38 L470.20,577.38 L470.83,577.34 L471.47,577.38 L472.10,577.35 L472.73,577.25 L473.37,577.25 L474.00,577.48 L474.63,577.77 L475.26,577.92 L475.90,577.90 L476.53,577.75 L477.16,577.59 L477.80,577.53 L478.43,577.54 L479.06,577.55 L479.69,577.55 L480.33,577.48 L480.96,577.31 L481.59,577.22 L482.22,577.39 L482.86,577.57 L483.49,577.65 L484.12,577.65 L484.76,577.61 L485.39,577.59 L486.02,577.58 L486.65,577.71 L487.29,577.68 L487.92,577.54 L488.55,577.54 L489.19,577.69 L489.82,577.82 L490.45,577.71 L491.08,577.58 L491.72,577.58 L492.35,577.76 L492.98,577.98 L493.62,578.10 L494.25,578.08 L494.88,578.04 L495.51,577.90 L496.15,577.85 L496.78,578.01 L497.41,578.14 L498.05,578.24 L498.68,578.39 L499.31,578.47 L499.94,578.33 L500.58,578.08 L501.21,577.89 L501.84,577.90 L502.47,578.04 L503.11,578.14 L503.74,578.28 L504.37,578.41 L505.01,578.35 L505.64,578.22 L506.27,578.29 L506.90,578.43 L507.54,578.39 L508.17,578.30 L508.80,578.28 L509.44,578.39 L510.07,578.58 L510.70,578.61 L511.33,578.46 L511.97,578.36 L512.60,578.38 L513.23,578.39 L513.87,578.38 L514.50,578.43 L515.13,578.31 L515.76,578.27 L516.40,578.22 L517.03,578.11 L517.66,578.17 L518.29,578.27 L518.93,578.27 L519.56,578.15 L520.19,578.00 L520.83,577.89 L521.46,577.95 L522.09,578.15 L522.72,578.31 L523.36,578.36 L523.99,578.37 L524.62,578.34 L525.26,578.26 L525.89,578.16 L526.52,578.16 L527.15,578.22 L527.79,578.31 L528.42,578.43 L529.05,578.47 L529.69,578.45 L530.32,578.26 L530.95,578.05 L531.58,578.07 L532.22,578.17 L532.85,578.16 L533.48,578.11 L534.12,578.10 L534.75,578.09 L535.38,578.15 L536.01,578.20 L536.65,578.14 L537.28,578.08 L537.91,578.14 L538.54,578.13 L539.18,578.02 L539.81,578.06 L540.44,578.08 L541.08,577.98 L541.71,577.98 L542.34,578.02 L542.97,577.94 L543.61,577.75 L544.24,577.62 L544.87,577.62 L545.51,577.61 L546.14,577.58 L546.77,577.77 L547.40,577.98 L548.04,578.05 L548.67,578.09 L549.30,578.01 L549.94,577.84 L550.57,577.63 L551.20,577.49 L551.83,577.55 L552.47,577.68 L553.10,577.75 L553.73,577.71 L554.37,577.55 L555.00,577.52 L555.63,577.62 L556.26,577.78 L556.90,577.90 L557.53,577.95 L558.16,577.91 L558.79,577.78 L559.43,577.67 L560.06,577.65 L560.69,577.57 L561.33,577.49 L561.96,577.53 L562.59,577.70 L563.22,577.89 L563.86,577.83 L564.49,577.65 L565.12,577.53 L565.76,577.57 L566.39,577.68 L567.02,577.67 L567.65,577.57 L568.29,577.57 L568.92,577.80 L569.55,578.09 L570.19,578.36 L570.82,578.62 L571.45,578.93 L572.08,579.32 L572.72,579.69 L573.35,580.05 L573.98,580.67 L574.62,581.65 L575.25,582.84 L575.88,584.15 L576.51,585.66 L577.15,587.45 L577.78,589.62 L578.41,592.12 L579.04,594.79 L579.68,597.81 L580.31,601.33 L580.94,605.06 L581.58,608.70 L582.21,612.33 L582.84,616.18 L583.47,620.18 L584.11,624.13 L584.74,628.18 L585.37,632.43 L586.01,636.67 L586.64,640.63 L587.27,644.40 L587.90,648.11 L588.54,651.74 L589.17,655.20 L589.80,658.46 L590.44,661.54 L591.07,664.44 L591.70,667.09 L592.33,669.54 L592.97,671.88 L593.60,674.14 L594.23,676.28 L594.86,678.31 L595.50,680.18 L596.13,681.85 L596.76,683.32 L597.40,684.59 L598.03,685.71 L598.66,686.73 L599.29,687.69 L599.93,688.62 L600.56,689.48 L601.19,690.25 L601.83,690.92 L602.46,691.48 L603.09,691.91 L603.72,692.24 L604.36,692.50 L604.99,692.72 L605.62,692.93 L606.26,693.13 L606.89,693.32 L607.52,693.50 L608.15,693.68 L608.79,693.84 L609.42,693.99 L610.05,694.13 L610.69,694.25 L611.32,694.35 L611.95,694.43 L612.58,694.50 L613.22,694.55 L613.85,694.59 L614.48,694.63 L615.11,694.67 L615.75,694.70 L616.38,694.74 L617.01,694.77 L617.65,694.81 L618.28,694.84 L618.91,694.87 L619.54,694.90 L620.18,694.92 L620.81,694.95 L621.44,694.97 L622.08,694.98 L622.71,694.99 L623.34,695.00 L623.97,695.00 L624.61,695.00 L625.24,695.00 L625.87,695.00 L626.51,695.00 L627.14,695.00 L627.77,695.00 L628.40,695.00 L629.04,695.00 L629.67,695.00 L630.30,695.00 L630.94,695.00 L631.57,695.00 L632.20,695.00 L632.83,695.00 L633.47,695.00 L634.10,695.00 L634.73,695.00 L635.36,695.00 L636.00,695.00 L636.63,695.00 L637.26,695.00 L637.90,695.00" fill="none" stroke="#858585" stroke-width="2.0" stroke-dasharray="10.5 6"/>
<circle cx="206.35" cy="612.70" r="2.9" fill="none" stroke="#d95319" stroke-width="2.2"/>
<circle cx="306.43" cy="604.35" r="2.9" fill="none" stroke="#d95319" stroke-width="2.2"/>
<circle cx="373.60" cy="594.48" r="2.9" fill="none" stroke="#d95319" stroke-width="2.2"/>
<circle cx="390.73" cy="588.20" r="2.9" fill="none" stroke="#d95319" stroke-width="2.2"/>
<circle cx="407.52" cy="579.76" r="2.9" fill="none" stroke="#d95319" stroke-width="2.2"/>
<circle cx="424.31" cy="577.88" r="2.9" fill="none" stroke="#d95319" stroke-width="2.2"/>
<circle cx="441.10" cy="577.43" r="2.9" fill="none" stroke="#d95319" stroke-width="2.2"/>
<circle cx="474.35" cy="577.88" r="2.9" fill="none" stroke="#d95319" stroke-width="2.2"/>
<circle cx="508.94" cy="579.22" r="2.9" fill="none" stroke="#d95319" stroke-width="2.2"/>
<circle cx="541.85" cy="579.58" r="2.9" fill="none" stroke="#d95319" stroke-width="2.2"/>
<circle cx="549.91" cy="583.35" r="2.9" fill="none" stroke="#d95319" stroke-width="2.2"/>
<circle cx="558.30" cy="586.22" r="2.9" fill="none" stroke="#d95319" stroke-width="2.2"/>
<circle cx="567.37" cy="583.35" r="2.9" fill="none" stroke="#d95319" stroke-width="2.2"/>
<circle cx="570.73" cy="584.25" r="2.9" fill="none" stroke="#d95319" stroke-width="2.2"/>
<circle cx="572.75" cy="592.68" r="2.9" fill="none" stroke="#d95319" stroke-width="2.2"/>
<circle cx="575.77" cy="597.35" r="2.9" fill="none" stroke="#d95319" stroke-width="2.2"/>
<circle cx="583.49" cy="645.64" r="2.9" fill="none" stroke="#d95319" stroke-width="2.2"/>
<circle cx="592.22" cy="682.97" r="2.9" fill="none" stroke="#d95319" stroke-width="2.2"/>
<path d="M68.85,19.5 L68.85,199.5" stroke="#686868" stroke-width="1.05" fill="none"/>
<path d="M68.5,19.5 L674.0,19.5 M68.5,199.5 L674.0,199.5 M673.5,19.5 L673.5,199.5" stroke="#686868" stroke-width="1" fill="none"/>
<path d="M68.85,267.5 L68.85,447.5" stroke="#686868" stroke-width="1.05" fill="none"/>
<path d="M68.5,267.5 L674.0,267.5 M68.5,447.5 L674.0,447.5 M673.5,267.5 L673.5,447.5" stroke="#686868" stroke-width="1" fill="none"/>
<path d="M68.85,515.5 L68.85,695.0" stroke="#686868" stroke-width="1.05" fill="none"/>
<path d="M68.5,515.5 L674.0,515.5 M68.5,695.0 L674.0,695.0 M673.5,515.5 L673.5,695.0" stroke="#686868" stroke-width="1" fill="none"/>
<rect x="77.5" y="26.5" width="199.0" height="88.0" fill="#ffffff" stroke="#505050" stroke-width="1"/>
<line x1="77.5" y1="46.5" x2="276.5" y2="46.5" stroke="#505050" stroke-width="1"/>
<text x="177.00" y="40.9" text-anchor="middle" font-size="12.6" font-weight="bold">SpeleoSolid Filter</text>
<line x1="81.8" y1="56.3" x2="113.5" y2="56.3" stroke="#555555" stroke-width="1.2"/>
<text x="117.3" y="60.8" font-size="12.5">MC</text>
<circle cx="97.00" cy="72.30" r="3.0" fill="none" stroke="#ff1a1a" stroke-width="2.3"/>
<text x="117.3" y="76.8" font-size="12.5">Measured</text>
<line x1="81.8" y1="88.2" x2="113.5" y2="88.2" stroke="#555555" stroke-width="1.2"/>
<text x="117.3" y="92.8" font-size="12.5">MC (No SpeleoFilter)</text>
<circle cx="97.00" cy="104.30" r="3.0" fill="none" stroke="#ff1a1a" stroke-width="2.3"/>
<text x="117.3" y="109.0" font-size="12.5">Measured (No SpeleoFilter)</text>
<rect x="77.5" y="274.5" width="196.0" height="91.5" fill="#ffffff" stroke="#505050" stroke-width="1"/>
<line x1="77.5" y1="294.5" x2="273.5" y2="294.5" stroke="#505050" stroke-width="1"/>
<text x="175.50" y="288.9" text-anchor="middle" font-size="12.6" font-weight="bold">SpeleoPillar Filter</text>
<line x1="81.8" y1="306.1" x2="113.5" y2="306.1" stroke="#1f6cc6" stroke-width="2.5"/>
<text x="123.6" y="313.4" font-size="12.8">MC (0.62<tspan dx="0.6" dy="-5.2" font-size="10">o</tspan><tspan dy="5.2" dx="1.2"> </tspan>Alignment Tilt)</text>
<line x1="81.8" y1="324.2" x2="113.5" y2="324.2" stroke="#555555" stroke-width="2.1" stroke-dasharray="2 2.5"/>
<text x="123.6" y="328.6" font-size="12.8">MC (Density of 1.26 g/cc)</text>
<line x1="81.8" y1="340.2" x2="113.5" y2="340.2" stroke="#6b6b6b" stroke-width="1.6" stroke-dasharray="10 6.5"/>
<text x="123.6" y="345.2" font-size="12.8">MC (Nominal Setup)</text>
<circle cx="97.00" cy="356.30" r="3.4" fill="none" stroke="#d95319" stroke-width="1.0"/>
<text x="117.2" y="360.6" font-size="12.8">Measured</text>
<rect x="77.5" y="522.5" width="187.0" height="76.0" fill="#ffffff" stroke="#505050" stroke-width="1"/>
<line x1="77.5" y1="542.5" x2="264.5" y2="542.5" stroke="#505050" stroke-width="1"/>
<text x="171.00" y="537.2" text-anchor="middle" font-size="12.6" font-weight="bold">SpeleoOptimized Filter</text>
<line x1="81.8" y1="554.2" x2="113.5" y2="554.2" stroke="#1f6cc6" stroke-width="1.6"/>
<text x="117.2" y="562.2" font-size="12.65">MC (0.75<tspan dx="0.6" dy="-5.2" font-size="10">o</tspan><tspan dy="5.2" dx="1.2"> </tspan>Alignment Tilt)</text>
<line x1="81.8" y1="572.7" x2="113.5" y2="572.7" stroke="#777777" stroke-width="2.0" stroke-dasharray="10.5 6"/>
<text x="117.2" y="577.6" font-size="12.65">MC (Nominal Setup)</text>
<circle cx="97.50" cy="588.50" r="2.9" fill="none" stroke="#d95319" stroke-width="2.2"/>
<text x="117.2" y="593.0" font-size="12.65">Measured</text>
<text transform="translate(1.3,19.6) scale(0.93,1)" font-size="23">A</text>
<text transform="translate(17.4,19.0) scale(0.82,1)" font-size="23">)</text>
<text transform="translate(1.6,261.3) scale(0.92,1)" font-size="23">B</text>
<text transform="translate(16.9,261.2) scale(0.82,1)" font-size="23">)</text>
<text transform="translate(1.5,512.3) scale(0.86,1)" font-size="23">C</text>
<text transform="translate(17.4,512.4) scale(0.82,1)" font-size="23">)</text>
</svg>
</body></html>
